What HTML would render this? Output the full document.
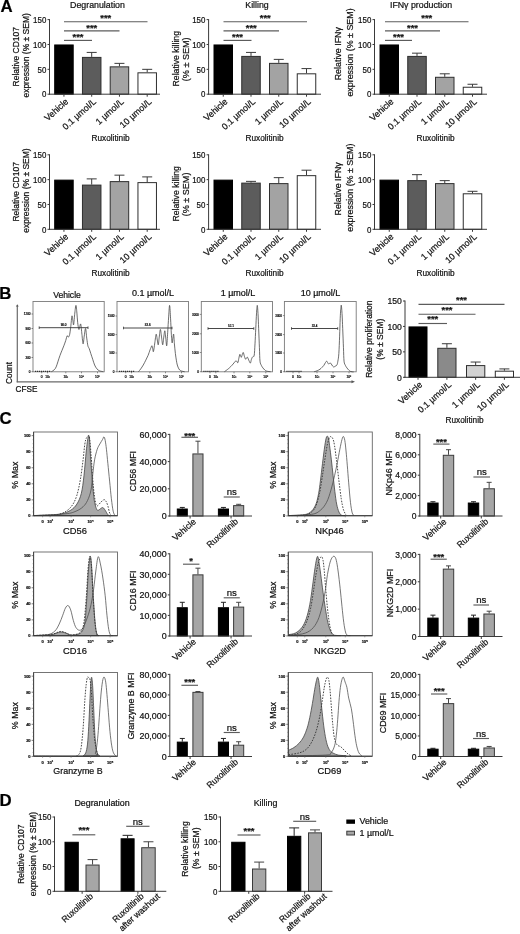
<!DOCTYPE html>
<html lang="en">
<head>
<meta charset="utf-8">
<title>Figure</title>
<style>
html,body{margin:0;padding:0;background:#fff;}
body{width:520px;height:934px;overflow:hidden;}
svg{display:block;font-family:"Liberation Sans",Arial,Helvetica,sans-serif;}
svg text{stroke:#111;stroke-width:0.22px;}
</style>
</head>
<body>
<svg width="520" height="934" viewBox="0 0 520 934">
<rect x="0" y="0" width="520" height="934" fill="#ffffff"/>
<rect x="54.7" y="44.97" width="18.5" height="49.23" fill="#000000" stroke="#000" stroke-width="1"/>
<line x1="91.7" y1="56.9" x2="91.7" y2="52.42" stroke="#3a3a3a" stroke-width="1" />
<line x1="86.7" y1="52.42" x2="96.7" y2="52.42" stroke="#3a3a3a" stroke-width="1" />
<rect x="82.45" y="57.4" width="18.5" height="36.8" fill="#5c5c5c" stroke="#2e2e2e" stroke-width="1"/>
<line x1="119.45" y1="66.35" x2="119.45" y2="63.37" stroke="#3a3a3a" stroke-width="1" />
<line x1="114.45" y1="63.37" x2="124.45" y2="63.37" stroke="#3a3a3a" stroke-width="1" />
<rect x="110.2" y="66.85" width="18.5" height="27.35" fill="#a3a3a3" stroke="#2e2e2e" stroke-width="1"/>
<line x1="147.2" y1="72.32" x2="147.2" y2="69.33" stroke="#3a3a3a" stroke-width="1" />
<line x1="142.2" y1="69.33" x2="152.2" y2="69.33" stroke="#3a3a3a" stroke-width="1" />
<rect x="137.95" y="72.82" width="18.5" height="21.38" fill="#ffffff" stroke="#2e2e2e" stroke-width="1"/>
<line x1="49.5" y1="19.1" x2="49.5" y2="94.7" stroke="#3a3a3a" stroke-width="1" />
<line x1="47.5" y1="19.6" x2="49.5" y2="19.6" stroke="#3a3a3a" stroke-width="1" />
<text transform="translate(46.3 22.8) scale(0.89 1)" font-size="8.9" text-anchor="end" fill="#111" >150</text>
<line x1="47.5" y1="44.47" x2="49.5" y2="44.47" stroke="#3a3a3a" stroke-width="1" />
<text transform="translate(46.3 47.67) scale(0.89 1)" font-size="8.9" text-anchor="end" fill="#111" >100</text>
<line x1="47.5" y1="69.33" x2="49.5" y2="69.33" stroke="#3a3a3a" stroke-width="1" />
<text transform="translate(46.3 72.54) scale(0.89 1)" font-size="8.9" text-anchor="end" fill="#111" >50</text>
<line x1="47.5" y1="94.2" x2="49.5" y2="94.2" stroke="#3a3a3a" stroke-width="1" />
<text transform="translate(46.3 97.4) scale(0.89 1)" font-size="8.9" text-anchor="end" fill="#111" >0</text>
<line x1="49" y1="94.2" x2="160" y2="94.2" stroke="#3a3a3a" stroke-width="1" />
<line x1="63.95" y1="94.2" x2="63.95" y2="96.7" stroke="#3a3a3a" stroke-width="1" />
<line x1="91.7" y1="94.2" x2="91.7" y2="96.7" stroke="#3a3a3a" stroke-width="1" />
<line x1="119.45" y1="94.2" x2="119.45" y2="96.7" stroke="#3a3a3a" stroke-width="1" />
<line x1="147.2" y1="94.2" x2="147.2" y2="96.7" stroke="#3a3a3a" stroke-width="1" />
<text transform="translate(68.95 102.4) rotate(-42)" font-size="8.9" text-anchor="end" fill="#111" >Vehicle</text>
<text transform="translate(96.7 102.4) rotate(-42)" font-size="8.9" text-anchor="end" fill="#111" >0.1 µmol/L</text>
<text transform="translate(124.45 102.4) rotate(-42)" font-size="8.9" text-anchor="end" fill="#111" >1 µmol/L</text>
<text transform="translate(152.2 102.4) rotate(-42)" font-size="8.9" text-anchor="end" fill="#111" >10 µmol/L</text>
<text transform="translate(18.8 56.7) rotate(-90) scale(0.955 1)" font-size="8.9" text-anchor="middle" fill="#111" >Relative CD107</text>
<text transform="translate(29.3 55.4) rotate(-90) scale(0.955 1)" font-size="8.9" text-anchor="middle" fill="#111" >expression (% ± SEM)</text>
<text transform="translate(97.5 7.5) scale(0.99 1)" font-size="8.9" text-anchor="middle" fill="#111" >Degranulation</text>
<line x1="64" y1="21.7" x2="147.5" y2="21.7" stroke="#5c5c5c" stroke-width="1.15" />
<text transform="translate(105.75 21.4)" font-size="9.4" text-anchor="middle" fill="#111" font-weight="bold" >***</text>
<line x1="64" y1="30.8" x2="119.5" y2="30.8" stroke="#5c5c5c" stroke-width="1.15" />
<text transform="translate(91.75 30.5)" font-size="9.4" text-anchor="middle" fill="#111" font-weight="bold" >***</text>
<line x1="64" y1="40.4" x2="92" y2="40.4" stroke="#5c5c5c" stroke-width="1.15" />
<text transform="translate(78 40.1)" font-size="9.4" text-anchor="middle" fill="#111" font-weight="bold" >***</text>
<text transform="translate(110.5 140.5) scale(0.93 1)" font-size="8.9" text-anchor="middle" fill="#111" >Ruxolitinib</text>
<rect x="214" y="44.97" width="18.5" height="49.23" fill="#000000" stroke="#000" stroke-width="1"/>
<line x1="251" y1="55.91" x2="251" y2="52.42" stroke="#3a3a3a" stroke-width="1" />
<line x1="246" y1="52.42" x2="256" y2="52.42" stroke="#3a3a3a" stroke-width="1" />
<rect x="241.75" y="56.41" width="18.5" height="37.79" fill="#5c5c5c" stroke="#2e2e2e" stroke-width="1"/>
<line x1="278.75" y1="62.87" x2="278.75" y2="59.39" stroke="#3a3a3a" stroke-width="1" />
<line x1="273.75" y1="59.39" x2="283.75" y2="59.39" stroke="#3a3a3a" stroke-width="1" />
<rect x="269.5" y="63.37" width="18.5" height="30.83" fill="#a3a3a3" stroke="#2e2e2e" stroke-width="1"/>
<line x1="306.5" y1="73.31" x2="306.5" y2="68.59" stroke="#3a3a3a" stroke-width="1" />
<line x1="301.5" y1="68.59" x2="311.5" y2="68.59" stroke="#3a3a3a" stroke-width="1" />
<rect x="297.25" y="73.81" width="18.5" height="20.39" fill="#ffffff" stroke="#2e2e2e" stroke-width="1"/>
<line x1="208.6" y1="19.1" x2="208.6" y2="94.7" stroke="#3a3a3a" stroke-width="1" />
<line x1="206.6" y1="19.6" x2="208.6" y2="19.6" stroke="#3a3a3a" stroke-width="1" />
<text transform="translate(205.4 22.8) scale(0.89 1)" font-size="8.9" text-anchor="end" fill="#111" >150</text>
<line x1="206.6" y1="44.47" x2="208.6" y2="44.47" stroke="#3a3a3a" stroke-width="1" />
<text transform="translate(205.4 47.67) scale(0.89 1)" font-size="8.9" text-anchor="end" fill="#111" >100</text>
<line x1="206.6" y1="69.33" x2="208.6" y2="69.33" stroke="#3a3a3a" stroke-width="1" />
<text transform="translate(205.4 72.54) scale(0.89 1)" font-size="8.9" text-anchor="end" fill="#111" >50</text>
<line x1="206.6" y1="94.2" x2="208.6" y2="94.2" stroke="#3a3a3a" stroke-width="1" />
<text transform="translate(205.4 97.4) scale(0.89 1)" font-size="8.9" text-anchor="end" fill="#111" >0</text>
<line x1="208.1" y1="94.2" x2="321" y2="94.2" stroke="#3a3a3a" stroke-width="1" />
<line x1="223.25" y1="94.2" x2="223.25" y2="96.7" stroke="#3a3a3a" stroke-width="1" />
<line x1="251" y1="94.2" x2="251" y2="96.7" stroke="#3a3a3a" stroke-width="1" />
<line x1="278.75" y1="94.2" x2="278.75" y2="96.7" stroke="#3a3a3a" stroke-width="1" />
<line x1="306.5" y1="94.2" x2="306.5" y2="96.7" stroke="#3a3a3a" stroke-width="1" />
<text transform="translate(228.25 102.4) rotate(-42)" font-size="8.9" text-anchor="end" fill="#111" >Vehicle</text>
<text transform="translate(256 102.4) rotate(-42)" font-size="8.9" text-anchor="end" fill="#111" >0.1 µmol/L</text>
<text transform="translate(283.75 102.4) rotate(-42)" font-size="8.9" text-anchor="end" fill="#111" >1 µmol/L</text>
<text transform="translate(311.5 102.4) rotate(-42)" font-size="8.9" text-anchor="end" fill="#111" >10 µmol/L</text>
<text transform="translate(178.6 58.7) rotate(-90) scale(0.976 1)" font-size="8.9" text-anchor="middle" fill="#111" >Relative killing</text>
<text transform="translate(189.4 59.3) rotate(-90) scale(1.02 1)" font-size="8.9" text-anchor="middle" fill="#111" >(% ± SEM)</text>
<text transform="translate(257 7.5) scale(0.99 1)" font-size="8.9" text-anchor="middle" fill="#111" >Killing</text>
<line x1="223.5" y1="21.7" x2="307" y2="21.7" stroke="#5c5c5c" stroke-width="1.15" />
<text transform="translate(265.25 21.4)" font-size="9.4" text-anchor="middle" fill="#111" font-weight="bold" >***</text>
<line x1="223.5" y1="30.8" x2="279" y2="30.8" stroke="#5c5c5c" stroke-width="1.15" />
<text transform="translate(251.25 30.5)" font-size="9.4" text-anchor="middle" fill="#111" font-weight="bold" >***</text>
<line x1="223.5" y1="40.4" x2="251.5" y2="40.4" stroke="#5c5c5c" stroke-width="1.15" />
<text transform="translate(237.5 40.1)" font-size="9.4" text-anchor="middle" fill="#111" font-weight="bold" >***</text>
<text transform="translate(264.5 140.5) scale(0.93 1)" font-size="8.9" text-anchor="middle" fill="#111" >Ruxolitinib</text>
<rect x="380" y="44.97" width="18.5" height="49.23" fill="#000000" stroke="#000" stroke-width="1"/>
<line x1="417" y1="55.91" x2="417" y2="53.17" stroke="#3a3a3a" stroke-width="1" />
<line x1="412" y1="53.17" x2="422" y2="53.17" stroke="#3a3a3a" stroke-width="1" />
<rect x="407.75" y="56.41" width="18.5" height="37.79" fill="#5c5c5c" stroke="#2e2e2e" stroke-width="1"/>
<line x1="444.75" y1="76.79" x2="444.75" y2="73.81" stroke="#3a3a3a" stroke-width="1" />
<line x1="439.75" y1="73.81" x2="449.75" y2="73.81" stroke="#3a3a3a" stroke-width="1" />
<rect x="435.5" y="77.29" width="18.5" height="16.91" fill="#a3a3a3" stroke="#2e2e2e" stroke-width="1"/>
<line x1="472.5" y1="86.74" x2="472.5" y2="84.25" stroke="#3a3a3a" stroke-width="1" />
<line x1="467.5" y1="84.25" x2="477.5" y2="84.25" stroke="#3a3a3a" stroke-width="1" />
<rect x="463.25" y="87.24" width="18.5" height="6.96" fill="#ffffff" stroke="#2e2e2e" stroke-width="1"/>
<line x1="374.5" y1="19.1" x2="374.5" y2="94.7" stroke="#3a3a3a" stroke-width="1" />
<line x1="372.5" y1="19.6" x2="374.5" y2="19.6" stroke="#3a3a3a" stroke-width="1" />
<text transform="translate(371.3 22.8) scale(0.89 1)" font-size="8.9" text-anchor="end" fill="#111" >150</text>
<line x1="372.5" y1="44.47" x2="374.5" y2="44.47" stroke="#3a3a3a" stroke-width="1" />
<text transform="translate(371.3 47.67) scale(0.89 1)" font-size="8.9" text-anchor="end" fill="#111" >100</text>
<line x1="372.5" y1="69.33" x2="374.5" y2="69.33" stroke="#3a3a3a" stroke-width="1" />
<text transform="translate(371.3 72.54) scale(0.89 1)" font-size="8.9" text-anchor="end" fill="#111" >50</text>
<line x1="372.5" y1="94.2" x2="374.5" y2="94.2" stroke="#3a3a3a" stroke-width="1" />
<text transform="translate(371.3 97.4) scale(0.89 1)" font-size="8.9" text-anchor="end" fill="#111" >0</text>
<line x1="374" y1="94.2" x2="487" y2="94.2" stroke="#3a3a3a" stroke-width="1" />
<line x1="389.25" y1="94.2" x2="389.25" y2="96.7" stroke="#3a3a3a" stroke-width="1" />
<line x1="417" y1="94.2" x2="417" y2="96.7" stroke="#3a3a3a" stroke-width="1" />
<line x1="444.75" y1="94.2" x2="444.75" y2="96.7" stroke="#3a3a3a" stroke-width="1" />
<line x1="472.5" y1="94.2" x2="472.5" y2="96.7" stroke="#3a3a3a" stroke-width="1" />
<text transform="translate(394.25 102.4) rotate(-42)" font-size="8.9" text-anchor="end" fill="#111" >Vehicle</text>
<text transform="translate(422 102.4) rotate(-42)" font-size="8.9" text-anchor="end" fill="#111" >0.1 µmol/L</text>
<text transform="translate(449.75 102.4) rotate(-42)" font-size="8.9" text-anchor="end" fill="#111" >1 µmol/L</text>
<text transform="translate(477.5 102.4) rotate(-42)" font-size="8.9" text-anchor="end" fill="#111" >10 µmol/L</text>
<text transform="translate(340.5 53.7) rotate(-90)" font-size="8.9" text-anchor="middle" fill="#111" >Relative IFNγ</text>
<text transform="translate(352.5 52.5) rotate(-90)" font-size="8.9" text-anchor="middle" fill="#111" >expression (% ± SEM)</text>
<text transform="translate(421 7.5) scale(0.99 1)" font-size="8.9" text-anchor="middle" fill="#111" >IFNγ production</text>
<line x1="385" y1="21.7" x2="468.5" y2="21.7" stroke="#5c5c5c" stroke-width="1.15" />
<text transform="translate(426.75 21.4)" font-size="9.4" text-anchor="middle" fill="#111" font-weight="bold" >***</text>
<line x1="385" y1="30.8" x2="440" y2="30.8" stroke="#5c5c5c" stroke-width="1.15" />
<text transform="translate(412.5 30.5)" font-size="9.4" text-anchor="middle" fill="#111" font-weight="bold" >***</text>
<line x1="385" y1="40.4" x2="412" y2="40.4" stroke="#5c5c5c" stroke-width="1.15" />
<text transform="translate(398.5 40.1)" font-size="9.4" text-anchor="middle" fill="#111" font-weight="bold" >***</text>
<text transform="translate(435.5 140.5) scale(0.93 1)" font-size="8.9" text-anchor="middle" fill="#111" >Ruxolitinib</text>
<rect x="54.7" y="180.13" width="18.5" height="49.17" fill="#000000" stroke="#000" stroke-width="1"/>
<line x1="91.7" y1="184.6" x2="91.7" y2="178.89" stroke="#3a3a3a" stroke-width="1" />
<line x1="86.7" y1="178.89" x2="96.7" y2="178.89" stroke="#3a3a3a" stroke-width="1" />
<rect x="82.45" y="185.1" width="18.5" height="44.2" fill="#5c5c5c" stroke="#2e2e2e" stroke-width="1"/>
<line x1="119.45" y1="181.12" x2="119.45" y2="175.16" stroke="#3a3a3a" stroke-width="1" />
<line x1="114.45" y1="175.16" x2="124.45" y2="175.16" stroke="#3a3a3a" stroke-width="1" />
<rect x="110.2" y="181.62" width="18.5" height="47.68" fill="#a3a3a3" stroke="#2e2e2e" stroke-width="1"/>
<line x1="147.2" y1="182.12" x2="147.2" y2="176.9" stroke="#3a3a3a" stroke-width="1" />
<line x1="142.2" y1="176.9" x2="152.2" y2="176.9" stroke="#3a3a3a" stroke-width="1" />
<rect x="137.95" y="182.62" width="18.5" height="46.68" fill="#ffffff" stroke="#2e2e2e" stroke-width="1"/>
<line x1="49.5" y1="154.3" x2="49.5" y2="229.8" stroke="#3a3a3a" stroke-width="1" />
<line x1="47.5" y1="154.8" x2="49.5" y2="154.8" stroke="#3a3a3a" stroke-width="1" />
<text transform="translate(46.3 158) scale(0.89 1)" font-size="8.9" text-anchor="end" fill="#111" >150</text>
<line x1="47.5" y1="179.63" x2="49.5" y2="179.63" stroke="#3a3a3a" stroke-width="1" />
<text transform="translate(46.3 182.84) scale(0.89 1)" font-size="8.9" text-anchor="end" fill="#111" >100</text>
<line x1="47.5" y1="204.47" x2="49.5" y2="204.47" stroke="#3a3a3a" stroke-width="1" />
<text transform="translate(46.3 207.67) scale(0.89 1)" font-size="8.9" text-anchor="end" fill="#111" >50</text>
<line x1="47.5" y1="229.3" x2="49.5" y2="229.3" stroke="#3a3a3a" stroke-width="1" />
<text transform="translate(46.3 232.5) scale(0.89 1)" font-size="8.9" text-anchor="end" fill="#111" >0</text>
<line x1="49" y1="229.3" x2="160" y2="229.3" stroke="#3a3a3a" stroke-width="1" />
<line x1="63.95" y1="229.3" x2="63.95" y2="231.8" stroke="#3a3a3a" stroke-width="1" />
<line x1="91.7" y1="229.3" x2="91.7" y2="231.8" stroke="#3a3a3a" stroke-width="1" />
<line x1="119.45" y1="229.3" x2="119.45" y2="231.8" stroke="#3a3a3a" stroke-width="1" />
<line x1="147.2" y1="229.3" x2="147.2" y2="231.8" stroke="#3a3a3a" stroke-width="1" />
<text transform="translate(68.95 237.5) rotate(-42)" font-size="8.9" text-anchor="end" fill="#111" >Vehicle</text>
<text transform="translate(96.7 237.5) rotate(-42)" font-size="8.9" text-anchor="end" fill="#111" >0.1 µmol/L</text>
<text transform="translate(124.45 237.5) rotate(-42)" font-size="8.9" text-anchor="end" fill="#111" >1 µmol/L</text>
<text transform="translate(152.2 237.5) rotate(-42)" font-size="8.9" text-anchor="end" fill="#111" >10 µmol/L</text>
<text transform="translate(18.8 191.85) rotate(-90) scale(0.955 1)" font-size="8.9" text-anchor="middle" fill="#111" >Relative CD107</text>
<text transform="translate(29.3 190.55) rotate(-90) scale(0.955 1)" font-size="8.9" text-anchor="middle" fill="#111" >expression (% ± SEM)</text>
<text transform="translate(110.5 275.5) scale(0.93 1)" font-size="8.9" text-anchor="middle" fill="#111" >Ruxolitinib</text>
<rect x="214" y="180.13" width="18.5" height="49.17" fill="#000000" stroke="#000" stroke-width="1"/>
<line x1="251" y1="182.61" x2="251" y2="181.37" stroke="#3a3a3a" stroke-width="1" />
<line x1="246" y1="181.37" x2="256" y2="181.37" stroke="#3a3a3a" stroke-width="1" />
<rect x="241.75" y="183.11" width="18.5" height="46.19" fill="#5c5c5c" stroke="#2e2e2e" stroke-width="1"/>
<line x1="278.75" y1="183.11" x2="278.75" y2="177.65" stroke="#3a3a3a" stroke-width="1" />
<line x1="273.75" y1="177.65" x2="283.75" y2="177.65" stroke="#3a3a3a" stroke-width="1" />
<rect x="269.5" y="183.61" width="18.5" height="45.69" fill="#a3a3a3" stroke="#2e2e2e" stroke-width="1"/>
<line x1="306.5" y1="175.16" x2="306.5" y2="170.2" stroke="#3a3a3a" stroke-width="1" />
<line x1="301.5" y1="170.2" x2="311.5" y2="170.2" stroke="#3a3a3a" stroke-width="1" />
<rect x="297.25" y="175.66" width="18.5" height="53.64" fill="#ffffff" stroke="#2e2e2e" stroke-width="1"/>
<line x1="208.6" y1="154.3" x2="208.6" y2="229.8" stroke="#3a3a3a" stroke-width="1" />
<line x1="206.6" y1="154.8" x2="208.6" y2="154.8" stroke="#3a3a3a" stroke-width="1" />
<text transform="translate(205.4 158) scale(0.89 1)" font-size="8.9" text-anchor="end" fill="#111" >150</text>
<line x1="206.6" y1="179.63" x2="208.6" y2="179.63" stroke="#3a3a3a" stroke-width="1" />
<text transform="translate(205.4 182.84) scale(0.89 1)" font-size="8.9" text-anchor="end" fill="#111" >100</text>
<line x1="206.6" y1="204.47" x2="208.6" y2="204.47" stroke="#3a3a3a" stroke-width="1" />
<text transform="translate(205.4 207.67) scale(0.89 1)" font-size="8.9" text-anchor="end" fill="#111" >50</text>
<line x1="206.6" y1="229.3" x2="208.6" y2="229.3" stroke="#3a3a3a" stroke-width="1" />
<text transform="translate(205.4 232.5) scale(0.89 1)" font-size="8.9" text-anchor="end" fill="#111" >0</text>
<line x1="208.1" y1="229.3" x2="321" y2="229.3" stroke="#3a3a3a" stroke-width="1" />
<line x1="223.25" y1="229.3" x2="223.25" y2="231.8" stroke="#3a3a3a" stroke-width="1" />
<line x1="251" y1="229.3" x2="251" y2="231.8" stroke="#3a3a3a" stroke-width="1" />
<line x1="278.75" y1="229.3" x2="278.75" y2="231.8" stroke="#3a3a3a" stroke-width="1" />
<line x1="306.5" y1="229.3" x2="306.5" y2="231.8" stroke="#3a3a3a" stroke-width="1" />
<text transform="translate(228.25 237.5) rotate(-42)" font-size="8.9" text-anchor="end" fill="#111" >Vehicle</text>
<text transform="translate(256 237.5) rotate(-42)" font-size="8.9" text-anchor="end" fill="#111" >0.1 µmol/L</text>
<text transform="translate(283.75 237.5) rotate(-42)" font-size="8.9" text-anchor="end" fill="#111" >1 µmol/L</text>
<text transform="translate(311.5 237.5) rotate(-42)" font-size="8.9" text-anchor="end" fill="#111" >10 µmol/L</text>
<text transform="translate(178.6 193.85) rotate(-90) scale(0.976 1)" font-size="8.9" text-anchor="middle" fill="#111" >Relative killing</text>
<text transform="translate(189.4 194.45) rotate(-90) scale(1.02 1)" font-size="8.9" text-anchor="middle" fill="#111" >(% ± SEM)</text>
<text transform="translate(264.5 275.5) scale(0.93 1)" font-size="8.9" text-anchor="middle" fill="#111" >Ruxolitinib</text>
<rect x="380" y="180.13" width="18.5" height="49.17" fill="#000000" stroke="#000" stroke-width="1"/>
<line x1="417" y1="180.13" x2="417" y2="174.67" stroke="#3a3a3a" stroke-width="1" />
<line x1="412" y1="174.67" x2="422" y2="174.67" stroke="#3a3a3a" stroke-width="1" />
<rect x="407.75" y="180.63" width="18.5" height="48.67" fill="#5c5c5c" stroke="#2e2e2e" stroke-width="1"/>
<line x1="444.75" y1="183.11" x2="444.75" y2="180.63" stroke="#3a3a3a" stroke-width="1" />
<line x1="439.75" y1="180.63" x2="449.75" y2="180.63" stroke="#3a3a3a" stroke-width="1" />
<rect x="435.5" y="183.61" width="18.5" height="45.69" fill="#a3a3a3" stroke="#2e2e2e" stroke-width="1"/>
<line x1="472.5" y1="193.29" x2="472.5" y2="191.31" stroke="#3a3a3a" stroke-width="1" />
<line x1="467.5" y1="191.31" x2="477.5" y2="191.31" stroke="#3a3a3a" stroke-width="1" />
<rect x="463.25" y="193.79" width="18.5" height="35.51" fill="#ffffff" stroke="#2e2e2e" stroke-width="1"/>
<line x1="374.5" y1="154.3" x2="374.5" y2="229.8" stroke="#3a3a3a" stroke-width="1" />
<line x1="372.5" y1="154.8" x2="374.5" y2="154.8" stroke="#3a3a3a" stroke-width="1" />
<text transform="translate(371.3 158) scale(0.89 1)" font-size="8.9" text-anchor="end" fill="#111" >150</text>
<line x1="372.5" y1="179.63" x2="374.5" y2="179.63" stroke="#3a3a3a" stroke-width="1" />
<text transform="translate(371.3 182.84) scale(0.89 1)" font-size="8.9" text-anchor="end" fill="#111" >100</text>
<line x1="372.5" y1="204.47" x2="374.5" y2="204.47" stroke="#3a3a3a" stroke-width="1" />
<text transform="translate(371.3 207.67) scale(0.89 1)" font-size="8.9" text-anchor="end" fill="#111" >50</text>
<line x1="372.5" y1="229.3" x2="374.5" y2="229.3" stroke="#3a3a3a" stroke-width="1" />
<text transform="translate(371.3 232.5) scale(0.89 1)" font-size="8.9" text-anchor="end" fill="#111" >0</text>
<line x1="374" y1="229.3" x2="487" y2="229.3" stroke="#3a3a3a" stroke-width="1" />
<line x1="389.25" y1="229.3" x2="389.25" y2="231.8" stroke="#3a3a3a" stroke-width="1" />
<line x1="417" y1="229.3" x2="417" y2="231.8" stroke="#3a3a3a" stroke-width="1" />
<line x1="444.75" y1="229.3" x2="444.75" y2="231.8" stroke="#3a3a3a" stroke-width="1" />
<line x1="472.5" y1="229.3" x2="472.5" y2="231.8" stroke="#3a3a3a" stroke-width="1" />
<text transform="translate(394.25 237.5) rotate(-42)" font-size="8.9" text-anchor="end" fill="#111" >Vehicle</text>
<text transform="translate(422 237.5) rotate(-42)" font-size="8.9" text-anchor="end" fill="#111" >0.1 µmol/L</text>
<text transform="translate(449.75 237.5) rotate(-42)" font-size="8.9" text-anchor="end" fill="#111" >1 µmol/L</text>
<text transform="translate(477.5 237.5) rotate(-42)" font-size="8.9" text-anchor="end" fill="#111" >10 µmol/L</text>
<text transform="translate(340.5 188.85) rotate(-90)" font-size="8.9" text-anchor="middle" fill="#111" >Relative IFNγ</text>
<text transform="translate(352.5 187.65) rotate(-90)" font-size="8.9" text-anchor="middle" fill="#111" >expression (% ± SEM)</text>
<text transform="translate(435.5 275.5) scale(0.93 1)" font-size="8.9" text-anchor="middle" fill="#111" >Ruxolitinib</text>
<text transform="translate(0.5 12.3)" font-size="16.8" text-anchor="start" fill="#000" font-weight="bold" >A</text>
<text transform="translate(-0.7 298.8)" font-size="16.8" text-anchor="start" fill="#000" font-weight="bold" >B</text>
<text transform="translate(-0.4 424)" font-size="16.8" text-anchor="start" fill="#000" font-weight="bold" >C</text>
<text transform="translate(-0.4 805.6)" font-size="16.8" text-anchor="start" fill="#000" font-weight="bold" >D</text>
<rect x="409" y="326.93" width="18" height="50.37" fill="#000000" stroke="#000" stroke-width="1"/>
<line x1="446.9" y1="347.8" x2="446.9" y2="343.73" stroke="#3a3a3a" stroke-width="1" />
<line x1="441.9" y1="343.73" x2="451.9" y2="343.73" stroke="#3a3a3a" stroke-width="1" />
<rect x="437.8" y="348.3" width="18.2" height="29" fill="#8a8a8a" stroke="#2e2e2e" stroke-width="1"/>
<line x1="475.65" y1="365.09" x2="475.65" y2="362.04" stroke="#3a3a3a" stroke-width="1" />
<line x1="470.65" y1="362.04" x2="480.65" y2="362.04" stroke="#3a3a3a" stroke-width="1" />
<rect x="466.5" y="365.59" width="18.3" height="11.71" fill="#d2d2d2" stroke="#2e2e2e" stroke-width="1"/>
<line x1="504.4" y1="370.69" x2="504.4" y2="368.91" stroke="#3a3a3a" stroke-width="1" />
<line x1="499.4" y1="368.91" x2="509.4" y2="368.91" stroke="#3a3a3a" stroke-width="1" />
<rect x="495.3" y="371.19" width="18.2" height="6.11" fill="#ffffff" stroke="#2e2e2e" stroke-width="1"/>
<line x1="405" y1="300.5" x2="405" y2="377.8" stroke="#3a3a3a" stroke-width="1" />
<line x1="403" y1="301" x2="405" y2="301" stroke="#3a3a3a" stroke-width="1" />
<text transform="translate(401.8 304.2) scale(0.97 1)" font-size="8.9" text-anchor="end" fill="#111" >150</text>
<line x1="403" y1="326.43" x2="405" y2="326.43" stroke="#3a3a3a" stroke-width="1" />
<text transform="translate(401.8 329.64) scale(0.97 1)" font-size="8.9" text-anchor="end" fill="#111" >100</text>
<line x1="403" y1="351.87" x2="405" y2="351.87" stroke="#3a3a3a" stroke-width="1" />
<text transform="translate(401.8 355.07) scale(0.97 1)" font-size="8.9" text-anchor="end" fill="#111" >50</text>
<line x1="403" y1="377.3" x2="405" y2="377.3" stroke="#3a3a3a" stroke-width="1" />
<text transform="translate(401.8 380.5) scale(0.97 1)" font-size="8.9" text-anchor="end" fill="#111" >0</text>
<line x1="404.5" y1="377.3" x2="520" y2="377.3" stroke="#3a3a3a" stroke-width="1" />
<line x1="418" y1="377.3" x2="418" y2="379.8" stroke="#3a3a3a" stroke-width="1" />
<line x1="446.9" y1="377.3" x2="446.9" y2="379.8" stroke="#3a3a3a" stroke-width="1" />
<line x1="475.65" y1="377.3" x2="475.65" y2="379.8" stroke="#3a3a3a" stroke-width="1" />
<line x1="504.4" y1="377.3" x2="504.4" y2="379.8" stroke="#3a3a3a" stroke-width="1" />
<text transform="translate(423 385.5) rotate(-42)" font-size="8.9" text-anchor="end" fill="#111" >Vehicle</text>
<text transform="translate(451.9 385.5) rotate(-42)" font-size="8.9" text-anchor="end" fill="#111" >0.1 µmol/L</text>
<text transform="translate(480.65 385.5) rotate(-42)" font-size="8.9" text-anchor="end" fill="#111" >1 µmol/L</text>
<text transform="translate(509.4 385.5) rotate(-42)" font-size="8.9" text-anchor="end" fill="#111" >10 µmol/L</text>
<text transform="translate(372 339.15) rotate(-90) scale(0.955 1)" font-size="8.9" text-anchor="middle" fill="#111" >Relative proliferation</text>
<text transform="translate(383 339.15) rotate(-90) scale(0.955 1)" font-size="8.9" text-anchor="middle" fill="#111" >(% ± SEM)</text>
<line x1="418.5" y1="304.4" x2="504.5" y2="304.4" stroke="#5c5c5c" stroke-width="1.15" />
<text transform="translate(461.5 303.2)" font-size="9.4" text-anchor="middle" fill="#111" font-weight="bold" >***</text>
<line x1="418.5" y1="314.2" x2="475.5" y2="314.2" stroke="#5c5c5c" stroke-width="1.15" />
<text transform="translate(447 313)" font-size="9.4" text-anchor="middle" fill="#111" font-weight="bold" >***</text>
<line x1="418.5" y1="323.5" x2="447" y2="323.5" stroke="#5c5c5c" stroke-width="1.15" />
<text transform="translate(432.75 322.3)" font-size="9.4" text-anchor="middle" fill="#111" font-weight="bold" >***</text>
<text transform="translate(464.5 422.5) scale(0.93 1)" font-size="8.9" text-anchor="middle" fill="#111" >Ruxolitinib</text>
<line x1="17.3" y1="306" x2="17.3" y2="382.3" stroke="#6a6a6a" stroke-width="1.2" />
<line x1="16.7" y1="381.8" x2="352" y2="381.8" stroke="#6a6a6a" stroke-width="1.2" />
<path d="M15.9,306.6 L17.3,304.3 L18.7,306.6 Z" fill="#555"/>
<path d="M351.5,380.3 L355,381.8 L351.5,383.3 Z" fill="#555"/>
<text transform="translate(11.9 373) rotate(-90)" font-size="8.2" text-anchor="middle" fill="#111" >Count</text>
<text transform="translate(15.6 391.6)" font-size="8.2" text-anchor="start" fill="#111" >CFSE</text>
<rect x="33" y="301.5" width="71.2" height="70.3" fill="#fff" stroke="#7a7a7a" stroke-width="0.9"/>
<text transform="translate(67 298)" font-size="8.6" text-anchor="middle" fill="#111" >Vehicle</text>
<text transform="translate(30.5 315.1)" font-size="3" text-anchor="end" fill="#333" >1200</text>
<line x1="31.5" y1="314" x2="33" y2="314" stroke="#444" stroke-width="0.6" />
<text transform="translate(30.5 329.6)" font-size="3" text-anchor="end" fill="#333" >900</text>
<line x1="31.5" y1="328.5" x2="33" y2="328.5" stroke="#444" stroke-width="0.6" />
<text transform="translate(30.5 344.1)" font-size="3" text-anchor="end" fill="#333" >600</text>
<line x1="31.5" y1="343" x2="33" y2="343" stroke="#444" stroke-width="0.6" />
<text transform="translate(30.5 358.6)" font-size="3" text-anchor="end" fill="#333" >300</text>
<line x1="31.5" y1="357.5" x2="33" y2="357.5" stroke="#444" stroke-width="0.6" />
<text transform="translate(30.5 372.8)" font-size="3" text-anchor="end" fill="#333" >0</text>
<line x1="31.5" y1="371.7" x2="33" y2="371.7" stroke="#444" stroke-width="0.6" />
<text transform="translate(41.7 378.4)" font-size="3.2" text-anchor="middle" fill="#333" >0</text>
<line x1="41.7" y1="371.8" x2="41.7" y2="373.3" stroke="#444" stroke-width="0.6" />
<text transform="translate(47.5 378.4)" font-size="3.2" text-anchor="middle" fill="#333" >10²</text>
<line x1="47.5" y1="371.8" x2="47.5" y2="373.3" stroke="#444" stroke-width="0.6" />
<text transform="translate(65.8 378.4)" font-size="3.2" text-anchor="middle" fill="#333" >10³</text>
<line x1="65.8" y1="371.8" x2="65.8" y2="373.3" stroke="#444" stroke-width="0.6" />
<text transform="translate(81.5 378.4)" font-size="3.2" text-anchor="middle" fill="#333" >10⁴</text>
<line x1="81.5" y1="371.8" x2="81.5" y2="373.3" stroke="#444" stroke-width="0.6" />
<text transform="translate(97.5 378.4)" font-size="3.2" text-anchor="middle" fill="#333" >10⁵</text>
<line x1="97.5" y1="371.8" x2="97.5" y2="373.3" stroke="#444" stroke-width="0.6" />
<line x1="35" y1="371.4" x2="51" y2="371.4" stroke="#333" stroke-width="1.2" stroke-dasharray="1.2 0.8"/>
<path d="M51.35,371.73 C51.83,371.41 53.43,370.61 54.23,369.81 C55.03,369.01 55.51,368.37 56.15,366.92 C56.79,365.48 57.44,363.08 58.08,361.15 C58.72,359.23 59.36,357.15 60,355.38 C60.64,353.62 61.28,352.18 61.92,350.58 C62.56,348.97 63.21,347.47 63.85,345.77 C64.49,344.07 65.22,342.05 65.77,340.38 C66.31,338.72 66.7,336.31 67.12,335.77 C67.53,335.22 67.85,337.31 68.27,337.12 C68.69,336.92 69.2,336.38 69.62,334.62 C70.03,332.85 70.38,329.65 70.77,326.54 C71.15,323.43 71.57,316.92 71.92,315.96 C72.28,315 72.6,319.33 72.88,320.77 C73.17,322.21 73.33,325.9 73.65,324.62 C73.97,323.33 74.42,316.28 74.81,313.08 C75.19,309.87 75.61,305.38 75.96,305.38 C76.31,305.38 76.63,310.19 76.92,313.08 C77.21,315.96 77.37,319.97 77.69,322.69 C78.01,325.42 78.49,328.78 78.85,329.42 C79.2,330.06 79.49,327.4 79.81,326.54 C80.13,325.67 80.42,322.95 80.77,324.23 C81.12,325.51 81.54,330.96 81.92,334.23 C82.31,337.5 82.69,343.53 83.08,343.85 C83.46,344.17 83.81,338.72 84.23,336.15 C84.65,333.59 85.16,328.14 85.58,328.46 C85.99,328.78 86.35,335.19 86.73,338.08 C87.12,340.96 87.47,344.01 87.88,345.77 C88.3,347.53 88.75,347.37 89.23,348.65 C89.71,349.94 90.19,351.7 90.77,353.46 C91.35,355.22 92.05,357.31 92.69,359.23 C93.33,361.15 93.91,363.4 94.62,365 C95.32,366.6 96.12,367.88 96.92,368.85 C97.72,369.81 98.37,370.29 99.42,370.77 C100.48,371.25 102.63,371.57 103.27,371.73" fill="none" stroke="#3c3c3c" stroke-width="0.75" stroke-linejoin="round"/>
<line x1="39.2" y1="327.7" x2="88" y2="327.7" stroke="#333" stroke-width="0.9" />
<line x1="39.2" y1="326.4" x2="39.2" y2="329" stroke="#333" stroke-width="0.8" />
<line x1="88" y1="326.4" x2="88" y2="329" stroke="#333" stroke-width="0.8" />
<text transform="translate(63.6 326.1)" font-size="3" text-anchor="middle" fill="#333" >90.0</text>
<rect x="117" y="301.5" width="71.5" height="70.3" fill="#fff" stroke="#7a7a7a" stroke-width="0.9"/>
<text transform="translate(153 295.8)" font-size="9.0" text-anchor="middle" fill="#111" >0.1 µmol/L</text>
<text transform="translate(114.5 317.1)" font-size="3" text-anchor="end" fill="#333" >1500</text>
<line x1="115.5" y1="316" x2="117" y2="316" stroke="#444" stroke-width="0.6" />
<text transform="translate(114.5 335.7)" font-size="3" text-anchor="end" fill="#333" >1000</text>
<line x1="115.5" y1="334.6" x2="117" y2="334.6" stroke="#444" stroke-width="0.6" />
<text transform="translate(114.5 354.1)" font-size="3" text-anchor="end" fill="#333" >500</text>
<line x1="115.5" y1="353" x2="117" y2="353" stroke="#444" stroke-width="0.6" />
<text transform="translate(114.5 372.8)" font-size="3" text-anchor="end" fill="#333" >0</text>
<line x1="115.5" y1="371.7" x2="117" y2="371.7" stroke="#444" stroke-width="0.6" />
<text transform="translate(125.7 378.4)" font-size="3.2" text-anchor="middle" fill="#333" >0</text>
<line x1="125.7" y1="371.8" x2="125.7" y2="373.3" stroke="#444" stroke-width="0.6" />
<text transform="translate(131.5 378.4)" font-size="3.2" text-anchor="middle" fill="#333" >10²</text>
<line x1="131.5" y1="371.8" x2="131.5" y2="373.3" stroke="#444" stroke-width="0.6" />
<text transform="translate(149.8 378.4)" font-size="3.2" text-anchor="middle" fill="#333" >10³</text>
<line x1="149.8" y1="371.8" x2="149.8" y2="373.3" stroke="#444" stroke-width="0.6" />
<text transform="translate(165.5 378.4)" font-size="3.2" text-anchor="middle" fill="#333" >10⁴</text>
<line x1="165.5" y1="371.8" x2="165.5" y2="373.3" stroke="#444" stroke-width="0.6" />
<text transform="translate(181.5 378.4)" font-size="3.2" text-anchor="middle" fill="#333" >10⁵</text>
<line x1="181.5" y1="371.8" x2="181.5" y2="373.3" stroke="#444" stroke-width="0.6" />
<line x1="119" y1="371.4" x2="135" y2="371.4" stroke="#333" stroke-width="1.2" stroke-dasharray="1.2 0.8"/>
<path d="M138.46,371.73 C138.85,371.25 139.97,369.97 140.77,368.85 C141.57,367.72 142.44,366.44 143.27,365 C144.1,363.56 144.97,361.79 145.77,360.19 C146.57,358.59 147.37,357.08 148.08,355.38 C148.78,353.69 149.52,351.28 150,350 C150.48,348.72 150.64,348.4 150.96,347.69 C151.28,346.99 151.63,345.61 151.92,345.77 C152.21,345.93 152.44,347.69 152.69,348.65 C152.95,349.62 153.11,352.5 153.46,351.54 C153.81,350.58 154.36,345.77 154.81,342.88 C155.26,340 155.74,334.71 156.15,334.23 C156.57,333.75 156.96,338.24 157.31,340 C157.66,341.76 157.95,345.29 158.27,344.81 C158.59,344.33 158.88,339.68 159.23,337.12 C159.58,334.55 160,329.42 160.38,329.42 C160.77,329.42 161.15,334.55 161.54,337.12 C161.92,339.68 162.34,344.65 162.69,344.81 C163.04,344.97 163.3,340.42 163.65,338.08 C164.01,335.74 164.46,330.77 164.81,330.77 C165.16,330.77 165.45,335.58 165.77,338.08 C166.09,340.58 166.41,346.73 166.73,345.77 C167.05,344.81 167.37,337.12 167.69,332.31 C168.01,327.5 168.33,321.41 168.65,316.92 C168.97,312.44 169.29,305.06 169.62,305.38 C169.94,305.71 170.29,314.04 170.58,318.85 C170.87,323.65 171.09,330.22 171.35,334.23 C171.6,338.24 171.86,342.24 172.12,342.88 C172.37,343.53 172.63,339.52 172.88,338.08 C173.14,336.63 173.4,333.27 173.65,334.23 C173.91,335.19 174.13,340.64 174.42,343.85 C174.71,347.05 175.06,350.74 175.38,353.46 C175.71,356.19 176.03,358.27 176.35,360.19 C176.67,362.12 176.89,363.56 177.31,365 C177.72,366.44 178.27,367.88 178.85,368.85 C179.42,369.81 179.81,370.29 180.77,370.77 C181.73,371.25 183.97,371.57 184.62,371.73" fill="none" stroke="#3c3c3c" stroke-width="0.75" stroke-linejoin="round"/>
<line x1="123.5" y1="328" x2="172" y2="328" stroke="#333" stroke-width="0.9" />
<line x1="123.5" y1="326.7" x2="123.5" y2="329.3" stroke="#333" stroke-width="0.8" />
<line x1="172" y1="326.7" x2="172" y2="329.3" stroke="#333" stroke-width="0.8" />
<text transform="translate(147.75 326.4)" font-size="3" text-anchor="middle" fill="#333" >83.6</text>
<rect x="201.3" y="301.5" width="71.2" height="70.3" fill="#fff" stroke="#7a7a7a" stroke-width="0.9"/>
<text transform="translate(238 295.8)" font-size="9.0" text-anchor="middle" fill="#111" >1 µmol/L</text>
<text transform="translate(198.8 315.5)" font-size="3" text-anchor="end" fill="#333" >3000</text>
<line x1="199.8" y1="314.4" x2="201.3" y2="314.4" stroke="#444" stroke-width="0.6" />
<text transform="translate(198.8 334.9)" font-size="3" text-anchor="end" fill="#333" >2000</text>
<line x1="199.8" y1="333.8" x2="201.3" y2="333.8" stroke="#444" stroke-width="0.6" />
<text transform="translate(198.8 353.6)" font-size="3" text-anchor="end" fill="#333" >1000</text>
<line x1="199.8" y1="352.5" x2="201.3" y2="352.5" stroke="#444" stroke-width="0.6" />
<text transform="translate(198.8 372.8)" font-size="3" text-anchor="end" fill="#333" >0</text>
<line x1="199.8" y1="371.7" x2="201.3" y2="371.7" stroke="#444" stroke-width="0.6" />
<text transform="translate(210 378.4)" font-size="3.2" text-anchor="middle" fill="#333" >0</text>
<line x1="210" y1="371.8" x2="210" y2="373.3" stroke="#444" stroke-width="0.6" />
<text transform="translate(215.8 378.4)" font-size="3.2" text-anchor="middle" fill="#333" >10²</text>
<line x1="215.8" y1="371.8" x2="215.8" y2="373.3" stroke="#444" stroke-width="0.6" />
<text transform="translate(234 378.4)" font-size="3.2" text-anchor="middle" fill="#333" >10³</text>
<line x1="234" y1="371.8" x2="234" y2="373.3" stroke="#444" stroke-width="0.6" />
<text transform="translate(249.8 378.4)" font-size="3.2" text-anchor="middle" fill="#333" >10⁴</text>
<line x1="249.8" y1="371.8" x2="249.8" y2="373.3" stroke="#444" stroke-width="0.6" />
<text transform="translate(265.8 378.4)" font-size="3.2" text-anchor="middle" fill="#333" >10⁵</text>
<line x1="265.8" y1="371.8" x2="265.8" y2="373.3" stroke="#444" stroke-width="0.6" />
<line x1="203.3" y1="371.4" x2="219.3" y2="371.4" stroke="#333" stroke-width="1.2" stroke-dasharray="1.2 0.8"/>
<path d="M224.42,371.73 C225.06,371.25 227.21,369.71 228.27,368.85 C229.33,367.98 229.97,367.34 230.77,366.54 C231.57,365.74 232.44,364.78 233.08,364.04 C233.72,363.3 234.13,362.66 234.62,362.12 C235.1,361.57 235.58,360.87 235.96,360.77 C236.35,360.67 236.6,361.22 236.92,361.54 C237.24,361.86 237.56,363.24 237.88,362.69 C238.21,362.15 238.53,359.65 238.85,358.27 C239.17,356.89 239.52,354.84 239.81,354.42 C240.1,354.01 240.32,355.29 240.58,355.77 C240.83,356.25 241.06,357.53 241.35,357.31 C241.63,357.08 241.99,355.22 242.31,354.42 C242.63,353.62 242.92,352.18 243.27,352.5 C243.62,352.82 244.04,355.22 244.42,356.35 C244.81,357.47 245.22,358.97 245.58,359.23 C245.93,359.49 246.22,358.21 246.54,357.88 C246.86,357.56 247.08,356.83 247.5,357.31 C247.92,357.79 248.56,359.81 249.04,360.77 C249.52,361.73 250,363.27 250.38,363.08 C250.77,362.88 251.03,360.58 251.35,359.62 C251.67,358.65 251.99,357.85 252.31,357.31 C252.63,356.76 252.95,356.67 253.27,356.35 C253.59,356.03 253.94,357.47 254.23,355.38 C254.52,353.3 254.74,348.33 255,343.85 C255.26,339.36 255.51,333.59 255.77,328.46 C256.03,323.33 256.28,316.92 256.54,313.08 C256.79,309.23 257.05,305.06 257.31,305.38 C257.56,305.71 257.85,311.15 258.08,315 C258.3,318.85 258.43,323.01 258.65,328.46 C258.88,333.91 259.2,342.24 259.42,347.69 C259.65,353.14 259.68,358.21 260,361.15 C260.32,364.1 260.87,364.26 261.35,365.38 C261.83,366.51 262.31,367.12 262.88,367.88 C263.46,368.65 264.17,369.46 264.81,370 C265.45,370.54 265.77,370.87 266.73,371.15 C267.69,371.44 269.94,371.63 270.58,371.73" fill="none" stroke="#3c3c3c" stroke-width="0.75" stroke-linejoin="round"/>
<line x1="208" y1="328.5" x2="253.8" y2="328.5" stroke="#333" stroke-width="0.9" />
<line x1="208" y1="327.2" x2="208" y2="329.8" stroke="#333" stroke-width="0.8" />
<line x1="253.8" y1="327.2" x2="253.8" y2="329.8" stroke="#333" stroke-width="0.8" />
<text transform="translate(230.9 326.9)" font-size="3" text-anchor="middle" fill="#333" >52.1</text>
<rect x="284.4" y="301.5" width="71.8" height="70.3" fill="#fff" stroke="#7a7a7a" stroke-width="0.9"/>
<text transform="translate(320.5 295.8)" font-size="9.0" text-anchor="middle" fill="#111" >10 µmol/L</text>
<text transform="translate(281.9 316.7)" font-size="3" text-anchor="end" fill="#333" >3000</text>
<line x1="282.9" y1="315.6" x2="284.4" y2="315.6" stroke="#444" stroke-width="0.6" />
<text transform="translate(281.9 335.7)" font-size="3" text-anchor="end" fill="#333" >2000</text>
<line x1="282.9" y1="334.6" x2="284.4" y2="334.6" stroke="#444" stroke-width="0.6" />
<text transform="translate(281.9 354.1)" font-size="3" text-anchor="end" fill="#333" >1000</text>
<line x1="282.9" y1="353" x2="284.4" y2="353" stroke="#444" stroke-width="0.6" />
<text transform="translate(281.9 372.8)" font-size="3" text-anchor="end" fill="#333" >0</text>
<line x1="282.9" y1="371.7" x2="284.4" y2="371.7" stroke="#444" stroke-width="0.6" />
<text transform="translate(293 378.4)" font-size="3.2" text-anchor="middle" fill="#333" >0</text>
<line x1="293" y1="371.8" x2="293" y2="373.3" stroke="#444" stroke-width="0.6" />
<text transform="translate(299 378.4)" font-size="3.2" text-anchor="middle" fill="#333" >10²</text>
<line x1="299" y1="371.8" x2="299" y2="373.3" stroke="#444" stroke-width="0.6" />
<text transform="translate(317 378.4)" font-size="3.2" text-anchor="middle" fill="#333" >10³</text>
<line x1="317" y1="371.8" x2="317" y2="373.3" stroke="#444" stroke-width="0.6" />
<text transform="translate(333 378.4)" font-size="3.2" text-anchor="middle" fill="#333" >10⁴</text>
<line x1="333" y1="371.8" x2="333" y2="373.3" stroke="#444" stroke-width="0.6" />
<text transform="translate(349 378.4)" font-size="3.2" text-anchor="middle" fill="#333" >10⁵</text>
<line x1="349" y1="371.8" x2="349" y2="373.3" stroke="#444" stroke-width="0.6" />
<line x1="286.4" y1="371.4" x2="302.4" y2="371.4" stroke="#333" stroke-width="1.2" stroke-dasharray="1.2 0.8"/>
<path d="M314.23,371.73 C314.71,371.57 316.15,371.19 317.12,370.77 C318.08,370.35 319.2,369.78 320,369.23 C320.8,368.69 321.28,368.14 321.92,367.5 C322.56,366.86 323.27,366.19 323.85,365.38 C324.42,364.58 324.9,363.4 325.38,362.69 C325.87,361.99 326.35,361.15 326.73,361.15 C327.12,361.15 327.37,362.21 327.69,362.69 C328.01,363.17 328.33,363.94 328.65,364.04 C328.97,364.13 329.29,363.43 329.62,363.27 C329.94,363.11 330.19,362.79 330.58,363.08 C330.96,363.37 331.44,364.36 331.92,365 C332.4,365.64 332.88,366.73 333.46,366.92 C334.04,367.12 334.81,366.47 335.38,366.15 C335.96,365.83 336.51,365.83 336.92,365 C337.34,364.17 337.56,363.08 337.88,361.15 C338.21,359.23 338.56,357.63 338.85,353.46 C339.13,349.29 339.39,341.92 339.62,336.15 C339.84,330.38 340,323.33 340.19,318.85 C340.38,314.36 340.58,311.47 340.77,309.23 C340.96,306.99 341.12,304.42 341.35,305.38 C341.57,306.35 341.89,311.15 342.12,315 C342.34,318.85 342.47,323.01 342.69,328.46 C342.92,333.91 343.24,342.24 343.46,347.69 C343.69,353.14 343.72,358.21 344.04,361.15 C344.36,364.1 344.9,364.26 345.38,365.38 C345.87,366.51 346.35,367.08 346.92,367.88 C347.5,368.69 348.21,369.58 348.85,370.19 C349.49,370.8 349.97,371.25 350.77,371.54 C351.57,371.83 353.17,371.86 353.65,371.92" fill="none" stroke="#3c3c3c" stroke-width="0.75" stroke-linejoin="round"/>
<line x1="291.5" y1="328.5" x2="337.7" y2="328.5" stroke="#333" stroke-width="0.9" />
<line x1="291.5" y1="327.2" x2="291.5" y2="329.8" stroke="#333" stroke-width="0.8" />
<line x1="337.7" y1="327.2" x2="337.7" y2="329.8" stroke="#333" stroke-width="0.8" />
<text transform="translate(314.6 326.9)" font-size="3" text-anchor="middle" fill="#333" >33.4</text>
<rect x="33.6" y="432" width="83.9" height="83.7" fill="#fff" stroke="#666" stroke-width="0.9"/>
<path d="M33.54,515.58 C36.49,515.49 46.51,515.34 51.23,515.05 C55.95,514.75 58.6,514.61 61.85,513.81 C65.09,513.01 68.19,511.89 70.69,510.27 C73.2,508.65 75.12,506.88 76.89,504.08 C78.66,501.28 80.13,498.18 81.31,493.46 C82.49,488.75 83.14,482.85 83.96,475.77 C84.79,468.69 85.59,457.34 86.26,451 C86.94,444.66 87.53,440.09 88.03,437.73 C88.53,435.37 88.92,434.63 89.27,436.85 C89.62,439.06 89.71,444.51 90.16,451 C90.6,457.49 91.28,467.81 91.92,475.77 C92.57,483.73 93.31,493.32 94.05,498.77 C94.79,504.23 95.67,506.59 96.35,508.5 C97.03,510.42 97.38,510.27 98.12,510.27 C98.85,510.27 99.98,508.94 100.77,508.5 C101.57,508.06 102.16,507.32 102.89,507.62 C103.63,507.91 104.37,509.09 105.19,510.27 C106.02,511.45 107.11,513.81 107.85,514.69 C108.59,515.58 109.32,515.43 109.62,515.58 Z" fill="#a8a8a8" stroke="#444" stroke-width="0.8" stroke-linejoin="round"/>
<path d="M33.54,515.58 C35.9,515.52 43.56,515.43 47.69,515.23 C51.82,515.02 55.21,515.02 58.31,514.34 C61.4,513.66 63.91,512.72 66.27,511.16 C68.63,509.59 70.69,507.62 72.46,504.96 C74.23,502.31 75.56,499.51 76.89,495.23 C78.21,490.96 79.39,485.21 80.42,479.31 C81.46,473.41 82.34,465.74 83.08,459.85 C83.82,453.95 84.26,447.61 84.85,443.92 C85.44,440.24 85.88,438.91 86.62,437.73 C87.35,436.55 88.53,434.05 89.27,436.85 C90.01,439.65 90.36,446.28 91.04,454.54 C91.72,462.8 92.6,478.42 93.34,486.39 C94.08,494.35 94.81,499.07 95.46,502.31 C96.11,505.55 96.35,505.85 97.23,505.85 C98.12,505.85 99.65,503.34 100.77,502.31 C101.89,501.28 103.07,499.8 103.96,499.66 C104.84,499.51 105.43,500.39 106.08,501.43 C106.73,502.46 107.26,503.93 107.85,505.85 C108.44,507.77 109.03,511.3 109.62,512.93 C110.21,514.55 111.09,515.14 111.39,515.58" fill="none" stroke="#333" stroke-width="0.9" stroke-linejoin="round" stroke-dasharray="1.6 1.3"/>
<path d="M33.54,515.58 C38.85,515.28 58.31,514.55 65.39,513.81 C72.46,513.07 73.05,512.34 76,511.16 C78.95,509.98 81.16,508.5 83.08,506.73 C85,504.96 86.17,503.34 87.5,500.54 C88.83,497.74 90.16,494.35 91.04,489.92 C91.92,485.5 92.22,479.01 92.81,474 C93.4,468.99 93.84,463.98 94.58,459.85 C95.32,455.72 96.35,451.89 97.23,449.23 C98.12,446.58 99,445.55 99.89,443.92 C100.77,442.3 101.86,440.68 102.54,439.5 C103.22,438.32 103.51,436.7 103.96,436.85 C104.4,436.99 104.78,438.32 105.19,440.38 C105.61,442.45 105.99,445.4 106.43,449.23 C106.88,453.06 107.32,458.08 107.85,463.39 C108.38,468.69 109.03,475.18 109.62,481.08 C110.21,486.98 110.8,493.76 111.39,498.77 C111.98,503.78 112.57,508.36 113.16,511.16 C113.75,513.96 114.63,514.84 114.93,515.58" fill="none" stroke="#4a4a4a" stroke-width="0.75" stroke-linejoin="round"/>
<line x1="33.6" y1="432" x2="33.6" y2="515.7" stroke="#444" stroke-width="1" />
<line x1="33.6" y1="515.7" x2="117.5" y2="515.7" stroke="#333" stroke-width="1.1" />
<text transform="translate(30.6 517.3)" font-size="4.0" text-anchor="end" fill="#222" font-weight="bold" >0</text>
<line x1="31.6" y1="515.9" x2="33.6" y2="515.9" stroke="#444" stroke-width="0.7" />
<line x1="32.6" y1="511.89" x2="33.6" y2="511.89" stroke="#555" stroke-width="0.5" />
<line x1="32.6" y1="507.88" x2="33.6" y2="507.88" stroke="#555" stroke-width="0.5" />
<line x1="32.6" y1="503.86" x2="33.6" y2="503.86" stroke="#555" stroke-width="0.5" />
<text transform="translate(30.6 501.25)" font-size="4.0" text-anchor="end" fill="#222" font-weight="bold" >20</text>
<line x1="31.6" y1="499.85" x2="33.6" y2="499.85" stroke="#444" stroke-width="0.7" />
<line x1="32.6" y1="495.84" x2="33.6" y2="495.84" stroke="#555" stroke-width="0.5" />
<line x1="32.6" y1="491.83" x2="33.6" y2="491.83" stroke="#555" stroke-width="0.5" />
<line x1="32.6" y1="487.81" x2="33.6" y2="487.81" stroke="#555" stroke-width="0.5" />
<text transform="translate(30.6 485.2)" font-size="4.0" text-anchor="end" fill="#222" font-weight="bold" >40</text>
<line x1="31.6" y1="483.8" x2="33.6" y2="483.8" stroke="#444" stroke-width="0.7" />
<line x1="32.6" y1="479.79" x2="33.6" y2="479.79" stroke="#555" stroke-width="0.5" />
<line x1="32.6" y1="475.78" x2="33.6" y2="475.78" stroke="#555" stroke-width="0.5" />
<line x1="32.6" y1="471.76" x2="33.6" y2="471.76" stroke="#555" stroke-width="0.5" />
<text transform="translate(30.6 469.15)" font-size="4.0" text-anchor="end" fill="#222" font-weight="bold" >60</text>
<line x1="31.6" y1="467.75" x2="33.6" y2="467.75" stroke="#444" stroke-width="0.7" />
<line x1="32.6" y1="463.74" x2="33.6" y2="463.74" stroke="#555" stroke-width="0.5" />
<line x1="32.6" y1="459.73" x2="33.6" y2="459.73" stroke="#555" stroke-width="0.5" />
<line x1="32.6" y1="455.71" x2="33.6" y2="455.71" stroke="#555" stroke-width="0.5" />
<text transform="translate(30.6 453.1)" font-size="4.0" text-anchor="end" fill="#222" font-weight="bold" >80</text>
<line x1="31.6" y1="451.7" x2="33.6" y2="451.7" stroke="#444" stroke-width="0.7" />
<line x1="32.6" y1="447.69" x2="33.6" y2="447.69" stroke="#555" stroke-width="0.5" />
<line x1="32.6" y1="443.68" x2="33.6" y2="443.68" stroke="#555" stroke-width="0.5" />
<line x1="32.6" y1="439.66" x2="33.6" y2="439.66" stroke="#555" stroke-width="0.5" />
<text transform="translate(30.6 437.05)" font-size="4.0" text-anchor="end" fill="#222" font-weight="bold" >100</text>
<line x1="31.6" y1="435.65" x2="33.6" y2="435.65" stroke="#444" stroke-width="0.7" />
<text transform="translate(42.6 523.3)" font-size="4.0" text-anchor="middle" fill="#222" font-weight="bold" >0</text>
<line x1="42.6" y1="515.7" x2="42.6" y2="517.3" stroke="#666" stroke-width="0.6" />
<text transform="translate(50.1 523.3)" font-size="4.0" text-anchor="middle" fill="#222" font-weight="bold" >10²</text>
<line x1="50.1" y1="515.7" x2="50.1" y2="517.3" stroke="#666" stroke-width="0.6" />
<text transform="translate(71.1 523.3)" font-size="4.0" text-anchor="middle" fill="#222" font-weight="bold" >10³</text>
<line x1="71.1" y1="515.7" x2="71.1" y2="517.3" stroke="#666" stroke-width="0.6" />
<text transform="translate(90.6 523.3)" font-size="4.0" text-anchor="middle" fill="#222" font-weight="bold" >10⁴</text>
<line x1="90.6" y1="515.7" x2="90.6" y2="517.3" stroke="#666" stroke-width="0.6" />
<text transform="translate(110.1 523.3)" font-size="4.0" text-anchor="middle" fill="#222" font-weight="bold" >10⁵</text>
<line x1="110.1" y1="515.7" x2="110.1" y2="517.3" stroke="#666" stroke-width="0.6" />
<text transform="translate(75 534)" font-size="9.3" text-anchor="middle" fill="#111" >CD56</text>
<text transform="translate(18 475.15) rotate(-90)" font-size="8.9" text-anchor="middle" fill="#111" >% Max</text>
<rect x="288.3" y="432" width="84" height="83.7" fill="#fff" stroke="#666" stroke-width="0.9"/>
<path d="M288.54,515.58 C291.19,515.43 300.63,515.43 304.46,514.69 C308.3,513.96 309.62,512.93 311.54,511.16 C313.46,509.39 314.78,507.03 315.96,504.08 C317.14,501.13 317.88,497.3 318.62,493.46 C319.35,489.63 319.74,486.09 320.39,481.08 C321.03,476.07 321.77,469.28 322.51,463.39 C323.25,457.49 324.13,450.12 324.81,445.69 C325.49,441.27 325.99,438.17 326.58,436.85 C327.17,435.52 327.85,436.26 328.35,437.73 C328.85,439.21 329.08,442.01 329.59,445.69 C330.09,449.38 330.77,454.83 331.36,459.85 C331.95,464.86 332.53,470.46 333.12,475.77 C333.71,481.08 334.3,486.98 334.89,491.69 C335.48,496.41 335.98,500.69 336.66,504.08 C337.34,507.47 338.14,510.18 338.96,512.04 C339.79,513.9 340.59,514.64 341.62,515.23 C342.65,515.82 344.57,515.52 345.16,515.58 Z" fill="#a8a8a8" stroke="#444" stroke-width="0.8" stroke-linejoin="round"/>
<path d="M288.54,515.58 C291.19,515.49 300.63,515.64 304.46,515.05 C308.3,514.46 309.62,513.57 311.54,512.04 C313.46,510.51 314.64,508.94 315.96,505.85 C317.29,502.75 318.47,498.18 319.5,493.46 C320.53,488.75 321.27,483.14 322.15,477.54 C323.04,471.94 323.92,465.45 324.81,459.85 C325.69,454.24 326.58,447.76 327.46,443.92 C328.35,440.09 329.23,437.73 330.12,436.85 C331,435.96 332.03,437.14 332.77,438.62 C333.51,440.09 333.89,441.86 334.54,445.69 C335.19,449.53 335.93,455.72 336.66,461.62 C337.4,467.51 338.2,474.89 338.96,481.08 C339.73,487.27 340.53,494.05 341.26,498.77 C342,503.49 342.59,506.64 343.39,509.39 C344.18,512.13 345.6,514.25 346.04,515.23" fill="none" stroke="#333" stroke-width="0.9" stroke-linejoin="round" stroke-dasharray="1.6 1.3"/>
<path d="M288.54,515.58 C292.37,515.37 306.23,515.23 311.54,514.34 C316.85,513.46 317.88,512.28 320.39,510.27 C322.89,508.27 324.81,505.7 326.58,502.31 C328.35,498.92 329.67,494.35 331,489.92 C332.33,485.5 333.51,480.19 334.54,475.77 C335.57,471.35 336.31,467.81 337.19,463.39 C338.08,458.96 339.05,453.21 339.85,449.23 C340.64,445.25 341.38,441.62 341.97,439.5 C342.56,437.38 342.91,436.35 343.39,436.49 C343.86,436.64 344.36,437.97 344.8,440.38 C345.24,442.8 345.63,446.87 346.04,451 C346.45,455.13 346.84,459.85 347.28,465.15 C347.72,470.46 348.16,476.66 348.69,482.85 C349.23,489.04 349.87,497.3 350.46,502.31 C351.05,507.32 351.64,510.71 352.23,512.93 C352.82,515.14 353.71,515.14 354,515.58" fill="none" stroke="#4a4a4a" stroke-width="0.75" stroke-linejoin="round"/>
<line x1="288.3" y1="432" x2="288.3" y2="515.7" stroke="#444" stroke-width="1" />
<line x1="288.3" y1="515.7" x2="372.3" y2="515.7" stroke="#333" stroke-width="1.1" />
<text transform="translate(285.3 517.3)" font-size="4.0" text-anchor="end" fill="#222" font-weight="bold" >0</text>
<line x1="286.3" y1="515.9" x2="288.3" y2="515.9" stroke="#444" stroke-width="0.7" />
<line x1="287.3" y1="511.89" x2="288.3" y2="511.89" stroke="#555" stroke-width="0.5" />
<line x1="287.3" y1="507.88" x2="288.3" y2="507.88" stroke="#555" stroke-width="0.5" />
<line x1="287.3" y1="503.86" x2="288.3" y2="503.86" stroke="#555" stroke-width="0.5" />
<text transform="translate(285.3 501.25)" font-size="4.0" text-anchor="end" fill="#222" font-weight="bold" >20</text>
<line x1="286.3" y1="499.85" x2="288.3" y2="499.85" stroke="#444" stroke-width="0.7" />
<line x1="287.3" y1="495.84" x2="288.3" y2="495.84" stroke="#555" stroke-width="0.5" />
<line x1="287.3" y1="491.83" x2="288.3" y2="491.83" stroke="#555" stroke-width="0.5" />
<line x1="287.3" y1="487.81" x2="288.3" y2="487.81" stroke="#555" stroke-width="0.5" />
<text transform="translate(285.3 485.2)" font-size="4.0" text-anchor="end" fill="#222" font-weight="bold" >40</text>
<line x1="286.3" y1="483.8" x2="288.3" y2="483.8" stroke="#444" stroke-width="0.7" />
<line x1="287.3" y1="479.79" x2="288.3" y2="479.79" stroke="#555" stroke-width="0.5" />
<line x1="287.3" y1="475.78" x2="288.3" y2="475.78" stroke="#555" stroke-width="0.5" />
<line x1="287.3" y1="471.76" x2="288.3" y2="471.76" stroke="#555" stroke-width="0.5" />
<text transform="translate(285.3 469.15)" font-size="4.0" text-anchor="end" fill="#222" font-weight="bold" >60</text>
<line x1="286.3" y1="467.75" x2="288.3" y2="467.75" stroke="#444" stroke-width="0.7" />
<line x1="287.3" y1="463.74" x2="288.3" y2="463.74" stroke="#555" stroke-width="0.5" />
<line x1="287.3" y1="459.73" x2="288.3" y2="459.73" stroke="#555" stroke-width="0.5" />
<line x1="287.3" y1="455.71" x2="288.3" y2="455.71" stroke="#555" stroke-width="0.5" />
<text transform="translate(285.3 453.1)" font-size="4.0" text-anchor="end" fill="#222" font-weight="bold" >80</text>
<line x1="286.3" y1="451.7" x2="288.3" y2="451.7" stroke="#444" stroke-width="0.7" />
<line x1="287.3" y1="447.69" x2="288.3" y2="447.69" stroke="#555" stroke-width="0.5" />
<line x1="287.3" y1="443.68" x2="288.3" y2="443.68" stroke="#555" stroke-width="0.5" />
<line x1="287.3" y1="439.66" x2="288.3" y2="439.66" stroke="#555" stroke-width="0.5" />
<text transform="translate(285.3 437.05)" font-size="4.0" text-anchor="end" fill="#222" font-weight="bold" >100</text>
<line x1="286.3" y1="435.65" x2="288.3" y2="435.65" stroke="#444" stroke-width="0.7" />
<text transform="translate(297.3 523.3)" font-size="4.0" text-anchor="middle" fill="#222" font-weight="bold" >0</text>
<line x1="297.3" y1="515.7" x2="297.3" y2="517.3" stroke="#666" stroke-width="0.6" />
<text transform="translate(304.8 523.3)" font-size="4.0" text-anchor="middle" fill="#222" font-weight="bold" >10²</text>
<line x1="304.8" y1="515.7" x2="304.8" y2="517.3" stroke="#666" stroke-width="0.6" />
<text transform="translate(325.8 523.3)" font-size="4.0" text-anchor="middle" fill="#222" font-weight="bold" >10³</text>
<line x1="325.8" y1="515.7" x2="325.8" y2="517.3" stroke="#666" stroke-width="0.6" />
<text transform="translate(345.3 523.3)" font-size="4.0" text-anchor="middle" fill="#222" font-weight="bold" >10⁴</text>
<line x1="345.3" y1="515.7" x2="345.3" y2="517.3" stroke="#666" stroke-width="0.6" />
<text transform="translate(364.8 523.3)" font-size="4.0" text-anchor="middle" fill="#222" font-weight="bold" >10⁵</text>
<line x1="364.8" y1="515.7" x2="364.8" y2="517.3" stroke="#666" stroke-width="0.6" />
<text transform="translate(329.5 534)" font-size="9.3" text-anchor="middle" fill="#111" >NKp46</text>
<text transform="translate(275.5 475.15) rotate(-90)" font-size="8.9" text-anchor="middle" fill="#111" >% Max</text>
<rect x="33.6" y="552" width="83.9" height="83.7" fill="#fff" stroke="#666" stroke-width="0.9"/>
<path d="M33.54,635.58 C36.49,635.43 46.81,635.28 51.23,634.69 C55.65,634.11 57.72,632.34 60.08,632.04 C62.44,631.75 63.62,632.42 65.39,632.93 C67.15,633.43 68.63,634.81 70.69,635.05 C72.76,635.28 75.85,634.99 77.77,634.34 C79.69,633.69 81.01,633.16 82.19,631.16 C83.37,629.15 84.11,627.32 84.85,622.31 C85.59,617.3 86.03,609.63 86.62,601.08 C87.21,592.53 87.8,578.43 88.39,571 C88.98,563.57 89.62,557.38 90.16,556.49 C90.69,555.61 91.04,558.85 91.57,565.69 C92.1,572.53 92.75,588.1 93.34,597.54 C93.93,606.98 94.52,616.26 95.11,622.31 C95.7,628.36 96.23,631.6 96.88,633.81 C97.53,636.02 98.65,635.28 99,635.58 Z" fill="#a8a8a8" stroke="#444" stroke-width="0.8" stroke-linejoin="round"/>
<path d="M33.54,635.58 C36.49,635.37 46.81,635.02 51.23,634.34 C55.65,633.66 57.72,631.81 60.08,631.51 C62.44,631.22 63.62,632.01 65.39,632.57 C67.15,633.13 68.69,634.64 70.69,634.87 C72.7,635.11 75.65,634.61 77.42,633.99 C79.19,633.37 80.22,633.1 81.31,631.16 C82.4,629.21 83.14,627.91 83.96,622.31 C84.79,616.71 85.59,606.39 86.26,597.54 C86.94,588.69 87.44,576.07 88.03,569.23 C88.62,562.39 89.24,557.08 89.8,556.49 C90.36,555.9 90.83,558.85 91.39,565.69 C91.95,572.53 92.57,588.1 93.16,597.54 C93.75,606.98 94.34,616.26 94.93,622.31 C95.52,628.36 96.02,631.6 96.7,633.81 C97.38,636.02 98.62,635.28 99,635.58" fill="none" stroke="#333" stroke-width="0.9" stroke-linejoin="round" stroke-dasharray="1.6 1.3"/>
<path d="M33.54,635.58 C35.9,635.43 44.15,635.43 47.69,634.69 C51.23,633.96 52.85,632.93 54.77,631.16 C56.69,629.39 57.87,626.73 59.19,624.08 C60.52,621.43 61.7,617.89 62.73,615.23 C63.76,612.58 64.5,609.78 65.39,608.16 C66.27,606.53 67.15,605.21 68.04,605.5 C68.92,605.8 69.81,607.42 70.69,609.92 C71.58,612.43 72.46,617.59 73.35,620.54 C74.23,623.49 74.97,626 76,627.62 C77.03,629.24 78.36,630.27 79.54,630.27 C80.72,630.27 81.75,629.83 83.08,627.62 C84.41,625.41 86.17,620.84 87.5,617 C88.83,613.17 90.01,609.34 91.04,604.62 C92.07,599.9 92.9,594.3 93.69,588.69 C94.49,583.09 95.08,576.31 95.82,571 C96.55,565.69 97.35,558.03 98.12,556.85 C98.88,555.67 99.62,560.38 100.42,563.92 C101.21,567.46 102.1,572.77 102.89,578.08 C103.69,583.39 104.52,589.58 105.19,595.77 C105.87,601.96 106.37,609.63 106.96,615.23 C107.55,620.84 108.14,626.08 108.73,629.39 C109.32,632.69 109.77,634.02 110.5,635.05 C111.24,636.08 112.71,635.49 113.16,635.58" fill="none" stroke="#4a4a4a" stroke-width="0.75" stroke-linejoin="round"/>
<line x1="33.6" y1="552" x2="33.6" y2="635.7" stroke="#444" stroke-width="1" />
<line x1="33.6" y1="635.7" x2="117.5" y2="635.7" stroke="#333" stroke-width="1.1" />
<text transform="translate(30.6 637.3)" font-size="4.0" text-anchor="end" fill="#222" font-weight="bold" >0</text>
<line x1="31.6" y1="635.9" x2="33.6" y2="635.9" stroke="#444" stroke-width="0.7" />
<line x1="32.6" y1="631.89" x2="33.6" y2="631.89" stroke="#555" stroke-width="0.5" />
<line x1="32.6" y1="627.88" x2="33.6" y2="627.88" stroke="#555" stroke-width="0.5" />
<line x1="32.6" y1="623.86" x2="33.6" y2="623.86" stroke="#555" stroke-width="0.5" />
<text transform="translate(30.6 621.25)" font-size="4.0" text-anchor="end" fill="#222" font-weight="bold" >20</text>
<line x1="31.6" y1="619.85" x2="33.6" y2="619.85" stroke="#444" stroke-width="0.7" />
<line x1="32.6" y1="615.84" x2="33.6" y2="615.84" stroke="#555" stroke-width="0.5" />
<line x1="32.6" y1="611.83" x2="33.6" y2="611.83" stroke="#555" stroke-width="0.5" />
<line x1="32.6" y1="607.81" x2="33.6" y2="607.81" stroke="#555" stroke-width="0.5" />
<text transform="translate(30.6 605.2)" font-size="4.0" text-anchor="end" fill="#222" font-weight="bold" >40</text>
<line x1="31.6" y1="603.8" x2="33.6" y2="603.8" stroke="#444" stroke-width="0.7" />
<line x1="32.6" y1="599.79" x2="33.6" y2="599.79" stroke="#555" stroke-width="0.5" />
<line x1="32.6" y1="595.78" x2="33.6" y2="595.78" stroke="#555" stroke-width="0.5" />
<line x1="32.6" y1="591.76" x2="33.6" y2="591.76" stroke="#555" stroke-width="0.5" />
<text transform="translate(30.6 589.15)" font-size="4.0" text-anchor="end" fill="#222" font-weight="bold" >60</text>
<line x1="31.6" y1="587.75" x2="33.6" y2="587.75" stroke="#444" stroke-width="0.7" />
<line x1="32.6" y1="583.74" x2="33.6" y2="583.74" stroke="#555" stroke-width="0.5" />
<line x1="32.6" y1="579.73" x2="33.6" y2="579.73" stroke="#555" stroke-width="0.5" />
<line x1="32.6" y1="575.71" x2="33.6" y2="575.71" stroke="#555" stroke-width="0.5" />
<text transform="translate(30.6 573.1)" font-size="4.0" text-anchor="end" fill="#222" font-weight="bold" >80</text>
<line x1="31.6" y1="571.7" x2="33.6" y2="571.7" stroke="#444" stroke-width="0.7" />
<line x1="32.6" y1="567.69" x2="33.6" y2="567.69" stroke="#555" stroke-width="0.5" />
<line x1="32.6" y1="563.68" x2="33.6" y2="563.68" stroke="#555" stroke-width="0.5" />
<line x1="32.6" y1="559.66" x2="33.6" y2="559.66" stroke="#555" stroke-width="0.5" />
<text transform="translate(30.6 557.05)" font-size="4.0" text-anchor="end" fill="#222" font-weight="bold" >100</text>
<line x1="31.6" y1="555.65" x2="33.6" y2="555.65" stroke="#444" stroke-width="0.7" />
<text transform="translate(42.6 643.3)" font-size="4.0" text-anchor="middle" fill="#222" font-weight="bold" >0</text>
<line x1="42.6" y1="635.7" x2="42.6" y2="637.3" stroke="#666" stroke-width="0.6" />
<text transform="translate(50.1 643.3)" font-size="4.0" text-anchor="middle" fill="#222" font-weight="bold" >10²</text>
<line x1="50.1" y1="635.7" x2="50.1" y2="637.3" stroke="#666" stroke-width="0.6" />
<text transform="translate(71.1 643.3)" font-size="4.0" text-anchor="middle" fill="#222" font-weight="bold" >10³</text>
<line x1="71.1" y1="635.7" x2="71.1" y2="637.3" stroke="#666" stroke-width="0.6" />
<text transform="translate(90.6 643.3)" font-size="4.0" text-anchor="middle" fill="#222" font-weight="bold" >10⁴</text>
<line x1="90.6" y1="635.7" x2="90.6" y2="637.3" stroke="#666" stroke-width="0.6" />
<text transform="translate(110.1 643.3)" font-size="4.0" text-anchor="middle" fill="#222" font-weight="bold" >10⁵</text>
<line x1="110.1" y1="635.7" x2="110.1" y2="637.3" stroke="#666" stroke-width="0.6" />
<text transform="translate(75 653.5)" font-size="9.3" text-anchor="middle" fill="#111" >CD16</text>
<text transform="translate(18 595.15) rotate(-90)" font-size="8.9" text-anchor="middle" fill="#111" >% Max</text>
<rect x="288.3" y="552" width="84" height="83.7" fill="#fff" stroke="#666" stroke-width="0.9"/>
<path d="M288.54,634.69 C289.72,634.4 293.4,634.11 295.62,632.93 C297.83,631.75 300.04,629.98 301.81,627.62 C303.58,625.26 304.9,622.6 306.23,618.77 C307.56,614.94 308.74,609.92 309.77,604.62 C310.8,599.31 311.54,593.12 312.42,586.92 C313.31,580.73 314.25,572.53 315.08,567.46 C315.9,562.39 316.73,557.38 317.38,556.49 C318.03,555.61 318.41,559.15 318.97,562.15 C319.53,565.16 320.06,569.53 320.74,574.54 C321.42,579.55 322.27,586.63 323.04,592.23 C323.81,597.83 324.54,603.14 325.34,608.16 C326.14,613.17 326.93,618.48 327.82,622.31 C328.7,626.14 329.67,629.03 330.65,631.16 C331.62,633.28 332.42,634.31 333.66,635.05 C334.89,635.79 345.6,635.49 338.08,635.58 C330.56,635.67 296.8,635.58 288.54,635.58 Z" fill="#a8a8a8" stroke="#444" stroke-width="0.8" stroke-linejoin="round"/>
<path d="M288.54,635.23 C289.72,635.08 293.4,635.17 295.62,634.34 C297.83,633.52 299.89,632.57 301.81,630.27 C303.72,627.97 305.64,624.23 307.12,620.54 C308.59,616.85 309.62,612.87 310.65,608.16 C311.69,603.44 312.42,597.83 313.31,592.23 C314.19,586.63 315.08,579.55 315.96,574.54 C316.85,569.53 317.73,565.16 318.62,562.15 C319.5,559.15 320.53,556.79 321.27,556.49 C322.01,556.2 322.54,557.97 323.04,560.38 C323.54,562.8 323.84,566.28 324.28,571 C324.72,575.72 325.16,582.5 325.69,588.69 C326.22,594.89 326.87,602.55 327.46,608.16 C328.05,613.76 328.58,618.33 329.23,622.31 C329.88,626.29 330.62,629.89 331.36,632.04 C332.09,634.19 333.27,634.69 333.66,635.23" fill="none" stroke="#333" stroke-width="0.9" stroke-linejoin="round" stroke-dasharray="1.6 1.3"/>
<path d="M288.54,635.05 C290.9,634.84 298.86,634.75 302.69,633.81 C306.53,632.87 309.03,631.6 311.54,629.39 C314.05,627.18 315.96,624.37 317.73,620.54 C319.5,616.71 320.89,611.4 322.15,606.39 C323.42,601.37 324.46,595.77 325.34,590.46 C326.22,585.15 326.67,579.26 327.46,574.54 C328.26,569.82 329.29,565.04 330.12,562.15 C330.94,559.26 331.68,558.14 332.42,557.2 C333.15,556.26 333.89,555.96 334.54,556.49 C335.19,557.02 335.72,557.97 336.31,560.38 C336.9,562.8 337.43,566.28 338.08,571 C338.73,575.72 339.55,582.8 340.2,588.69 C340.85,594.59 341.38,600.78 341.97,606.39 C342.56,611.99 343.15,618.03 343.74,622.31 C344.33,626.59 344.92,629.89 345.51,632.04 C346.1,634.19 346.45,634.64 347.28,635.23 C348.1,635.82 349.93,635.52 350.46,635.58" fill="none" stroke="#4a4a4a" stroke-width="0.75" stroke-linejoin="round"/>
<line x1="288.3" y1="552" x2="288.3" y2="635.7" stroke="#444" stroke-width="1" />
<line x1="288.3" y1="635.7" x2="372.3" y2="635.7" stroke="#333" stroke-width="1.1" />
<text transform="translate(285.3 637.3)" font-size="4.0" text-anchor="end" fill="#222" font-weight="bold" >0</text>
<line x1="286.3" y1="635.9" x2="288.3" y2="635.9" stroke="#444" stroke-width="0.7" />
<line x1="287.3" y1="631.89" x2="288.3" y2="631.89" stroke="#555" stroke-width="0.5" />
<line x1="287.3" y1="627.88" x2="288.3" y2="627.88" stroke="#555" stroke-width="0.5" />
<line x1="287.3" y1="623.86" x2="288.3" y2="623.86" stroke="#555" stroke-width="0.5" />
<text transform="translate(285.3 621.25)" font-size="4.0" text-anchor="end" fill="#222" font-weight="bold" >20</text>
<line x1="286.3" y1="619.85" x2="288.3" y2="619.85" stroke="#444" stroke-width="0.7" />
<line x1="287.3" y1="615.84" x2="288.3" y2="615.84" stroke="#555" stroke-width="0.5" />
<line x1="287.3" y1="611.83" x2="288.3" y2="611.83" stroke="#555" stroke-width="0.5" />
<line x1="287.3" y1="607.81" x2="288.3" y2="607.81" stroke="#555" stroke-width="0.5" />
<text transform="translate(285.3 605.2)" font-size="4.0" text-anchor="end" fill="#222" font-weight="bold" >40</text>
<line x1="286.3" y1="603.8" x2="288.3" y2="603.8" stroke="#444" stroke-width="0.7" />
<line x1="287.3" y1="599.79" x2="288.3" y2="599.79" stroke="#555" stroke-width="0.5" />
<line x1="287.3" y1="595.78" x2="288.3" y2="595.78" stroke="#555" stroke-width="0.5" />
<line x1="287.3" y1="591.76" x2="288.3" y2="591.76" stroke="#555" stroke-width="0.5" />
<text transform="translate(285.3 589.15)" font-size="4.0" text-anchor="end" fill="#222" font-weight="bold" >60</text>
<line x1="286.3" y1="587.75" x2="288.3" y2="587.75" stroke="#444" stroke-width="0.7" />
<line x1="287.3" y1="583.74" x2="288.3" y2="583.74" stroke="#555" stroke-width="0.5" />
<line x1="287.3" y1="579.73" x2="288.3" y2="579.73" stroke="#555" stroke-width="0.5" />
<line x1="287.3" y1="575.71" x2="288.3" y2="575.71" stroke="#555" stroke-width="0.5" />
<text transform="translate(285.3 573.1)" font-size="4.0" text-anchor="end" fill="#222" font-weight="bold" >80</text>
<line x1="286.3" y1="571.7" x2="288.3" y2="571.7" stroke="#444" stroke-width="0.7" />
<line x1="287.3" y1="567.69" x2="288.3" y2="567.69" stroke="#555" stroke-width="0.5" />
<line x1="287.3" y1="563.68" x2="288.3" y2="563.68" stroke="#555" stroke-width="0.5" />
<line x1="287.3" y1="559.66" x2="288.3" y2="559.66" stroke="#555" stroke-width="0.5" />
<text transform="translate(285.3 557.05)" font-size="4.0" text-anchor="end" fill="#222" font-weight="bold" >100</text>
<line x1="286.3" y1="555.65" x2="288.3" y2="555.65" stroke="#444" stroke-width="0.7" />
<text transform="translate(297.3 643.3)" font-size="4.0" text-anchor="middle" fill="#222" font-weight="bold" >0</text>
<line x1="297.3" y1="635.7" x2="297.3" y2="637.3" stroke="#666" stroke-width="0.6" />
<text transform="translate(304.8 643.3)" font-size="4.0" text-anchor="middle" fill="#222" font-weight="bold" >10²</text>
<line x1="304.8" y1="635.7" x2="304.8" y2="637.3" stroke="#666" stroke-width="0.6" />
<text transform="translate(325.8 643.3)" font-size="4.0" text-anchor="middle" fill="#222" font-weight="bold" >10³</text>
<line x1="325.8" y1="635.7" x2="325.8" y2="637.3" stroke="#666" stroke-width="0.6" />
<text transform="translate(345.3 643.3)" font-size="4.0" text-anchor="middle" fill="#222" font-weight="bold" >10⁴</text>
<line x1="345.3" y1="635.7" x2="345.3" y2="637.3" stroke="#666" stroke-width="0.6" />
<text transform="translate(364.8 643.3)" font-size="4.0" text-anchor="middle" fill="#222" font-weight="bold" >10⁵</text>
<line x1="364.8" y1="635.7" x2="364.8" y2="637.3" stroke="#666" stroke-width="0.6" />
<text transform="translate(330 653.5)" font-size="9.3" text-anchor="middle" fill="#111" >NKG2D</text>
<text transform="translate(275.5 595.15) rotate(-90)" font-size="8.9" text-anchor="middle" fill="#111" >% Max</text>
<rect x="33.6" y="672.5" width="83.9" height="83.7" fill="#fff" stroke="#666" stroke-width="0.9"/>
<path d="M83.08,755.93 C83.52,755.43 85,754.9 85.73,752.93 C86.47,750.95 87,748.5 87.5,744.08 C88,739.66 88.36,733.17 88.74,726.39 C89.12,719.6 89.48,710.17 89.8,703.39 C90.13,696.6 90.39,690.06 90.69,685.69 C90.98,681.33 91.25,677.2 91.57,677.2 C91.9,677.2 92.28,680.44 92.63,685.69 C92.99,690.94 93.31,700.44 93.69,708.69 C94.08,716.95 94.49,728.45 94.93,735.23 C95.38,742.02 95.82,746.14 96.35,749.39 C96.88,752.63 97.53,753.6 98.12,754.69 C98.71,755.79 99.59,755.73 99.89,755.93 Z" fill="#a8a8a8" stroke="#444" stroke-width="0.8" stroke-linejoin="round"/>
<path d="M76.36,755.93 C76.59,755.87 77.09,756.38 77.77,755.58 C78.45,754.78 79.69,753.96 80.42,751.16 C81.16,748.36 81.66,743.78 82.19,738.77 C82.72,733.76 83.17,727.57 83.61,721.08 C84.05,714.59 84.41,706.04 84.85,699.85 C85.29,693.65 85.82,687.7 86.26,683.92 C86.71,680.15 87.09,678.23 87.5,677.2 C87.91,676.17 88.3,677.2 88.74,677.73 C89.18,678.26 89.68,677.58 90.16,680.38 C90.63,683.19 91.13,688.35 91.57,694.54 C92.01,700.73 92.31,710.17 92.81,717.54 C93.31,724.91 93.99,733.46 94.58,738.77 C95.17,744.08 95.76,746.53 96.35,749.39 C96.94,752.25 97.82,754.84 98.12,755.93" fill="none" stroke="#333" stroke-width="0.9" stroke-linejoin="round" stroke-dasharray="1.6 1.3"/>
<path d="M33.54,755.93 C43.27,755.93 81.6,756.43 91.92,755.93 C102.25,755.43 94.58,755.2 95.46,752.93 C96.35,750.66 96.7,746.73 97.23,742.31 C97.76,737.89 98.21,731.99 98.65,726.39 C99.09,720.78 99.44,714.59 99.89,708.69 C100.33,702.8 100.8,695.87 101.3,691 C101.8,686.14 102.39,681.8 102.89,679.5 C103.4,677.2 103.84,676.76 104.31,677.2 C104.78,677.64 105.28,679.26 105.73,682.15 C106.17,685.04 106.52,689.53 106.96,694.54 C107.41,699.55 107.88,706.04 108.38,712.23 C108.88,718.42 109.41,726.09 109.97,731.69 C110.53,737.3 111.15,742.31 111.74,745.85 C112.33,749.39 112.83,751.24 113.51,752.93 C114.19,754.61 115.43,755.43 115.81,755.93" fill="none" stroke="#4a4a4a" stroke-width="0.75" stroke-linejoin="round"/>
<line x1="33.6" y1="672.5" x2="33.6" y2="756.2" stroke="#444" stroke-width="1" />
<line x1="33.6" y1="756.2" x2="117.5" y2="756.2" stroke="#333" stroke-width="1.1" />
<text transform="translate(30.6 757.8)" font-size="4.0" text-anchor="end" fill="#222" font-weight="bold" >0</text>
<line x1="31.6" y1="756.4" x2="33.6" y2="756.4" stroke="#444" stroke-width="0.7" />
<line x1="32.6" y1="752.39" x2="33.6" y2="752.39" stroke="#555" stroke-width="0.5" />
<line x1="32.6" y1="748.38" x2="33.6" y2="748.38" stroke="#555" stroke-width="0.5" />
<line x1="32.6" y1="744.36" x2="33.6" y2="744.36" stroke="#555" stroke-width="0.5" />
<text transform="translate(30.6 741.75)" font-size="4.0" text-anchor="end" fill="#222" font-weight="bold" >20</text>
<line x1="31.6" y1="740.35" x2="33.6" y2="740.35" stroke="#444" stroke-width="0.7" />
<line x1="32.6" y1="736.34" x2="33.6" y2="736.34" stroke="#555" stroke-width="0.5" />
<line x1="32.6" y1="732.33" x2="33.6" y2="732.33" stroke="#555" stroke-width="0.5" />
<line x1="32.6" y1="728.31" x2="33.6" y2="728.31" stroke="#555" stroke-width="0.5" />
<text transform="translate(30.6 725.7)" font-size="4.0" text-anchor="end" fill="#222" font-weight="bold" >40</text>
<line x1="31.6" y1="724.3" x2="33.6" y2="724.3" stroke="#444" stroke-width="0.7" />
<line x1="32.6" y1="720.29" x2="33.6" y2="720.29" stroke="#555" stroke-width="0.5" />
<line x1="32.6" y1="716.28" x2="33.6" y2="716.28" stroke="#555" stroke-width="0.5" />
<line x1="32.6" y1="712.26" x2="33.6" y2="712.26" stroke="#555" stroke-width="0.5" />
<text transform="translate(30.6 709.65)" font-size="4.0" text-anchor="end" fill="#222" font-weight="bold" >60</text>
<line x1="31.6" y1="708.25" x2="33.6" y2="708.25" stroke="#444" stroke-width="0.7" />
<line x1="32.6" y1="704.24" x2="33.6" y2="704.24" stroke="#555" stroke-width="0.5" />
<line x1="32.6" y1="700.23" x2="33.6" y2="700.23" stroke="#555" stroke-width="0.5" />
<line x1="32.6" y1="696.21" x2="33.6" y2="696.21" stroke="#555" stroke-width="0.5" />
<text transform="translate(30.6 693.6)" font-size="4.0" text-anchor="end" fill="#222" font-weight="bold" >80</text>
<line x1="31.6" y1="692.2" x2="33.6" y2="692.2" stroke="#444" stroke-width="0.7" />
<line x1="32.6" y1="688.19" x2="33.6" y2="688.19" stroke="#555" stroke-width="0.5" />
<line x1="32.6" y1="684.18" x2="33.6" y2="684.18" stroke="#555" stroke-width="0.5" />
<line x1="32.6" y1="680.16" x2="33.6" y2="680.16" stroke="#555" stroke-width="0.5" />
<text transform="translate(30.6 677.55)" font-size="4.0" text-anchor="end" fill="#222" font-weight="bold" >100</text>
<line x1="31.6" y1="676.15" x2="33.6" y2="676.15" stroke="#444" stroke-width="0.7" />
<text transform="translate(42.6 763.8)" font-size="4.0" text-anchor="middle" fill="#222" font-weight="bold" >0</text>
<line x1="42.6" y1="756.2" x2="42.6" y2="757.8" stroke="#666" stroke-width="0.6" />
<text transform="translate(50.1 763.8)" font-size="4.0" text-anchor="middle" fill="#222" font-weight="bold" >10²</text>
<line x1="50.1" y1="756.2" x2="50.1" y2="757.8" stroke="#666" stroke-width="0.6" />
<text transform="translate(71.1 763.8)" font-size="4.0" text-anchor="middle" fill="#222" font-weight="bold" >10³</text>
<line x1="71.1" y1="756.2" x2="71.1" y2="757.8" stroke="#666" stroke-width="0.6" />
<text transform="translate(90.6 763.8)" font-size="4.0" text-anchor="middle" fill="#222" font-weight="bold" >10⁴</text>
<line x1="90.6" y1="756.2" x2="90.6" y2="757.8" stroke="#666" stroke-width="0.6" />
<text transform="translate(110.1 763.8)" font-size="4.0" text-anchor="middle" fill="#222" font-weight="bold" >10⁵</text>
<line x1="110.1" y1="756.2" x2="110.1" y2="757.8" stroke="#666" stroke-width="0.6" />
<text transform="translate(78 774)" font-size="8.9" text-anchor="middle" fill="#111" >Granzyme B</text>
<text transform="translate(18 715.65) rotate(-90)" font-size="8.9" text-anchor="middle" fill="#111" >% Max</text>
<rect x="288.3" y="672.5" width="84" height="83.7" fill="#fff" stroke="#666" stroke-width="0.9"/>
<path d="M288.54,750.27 C289.42,749.83 292.08,748.8 293.85,747.62 C295.62,746.44 297.53,744.96 299.15,743.19 C300.78,741.43 302.25,739.51 303.58,737 C304.9,734.5 306.08,731.4 307.12,728.16 C308.15,724.91 308.89,721.67 309.77,717.54 C310.65,713.41 311.6,708.1 312.42,703.39 C313.25,698.67 314.05,693.06 314.72,689.23 C315.4,685.4 315.99,682.39 316.49,680.38 C316.99,678.38 317.32,676.91 317.73,677.2 C318.14,677.5 318.53,679.26 318.97,682.15 C319.41,685.04 319.85,689.53 320.39,694.54 C320.92,699.55 321.51,706.33 322.15,712.23 C322.8,718.13 323.54,724.91 324.28,729.92 C325.02,734.94 325.75,739.07 326.58,742.31 C327.4,745.55 328.2,747.62 329.23,749.39 C330.26,751.16 331.3,751.98 332.77,752.93 C334.25,753.87 336.31,754.55 338.08,755.05 C339.85,755.55 351.64,755.79 343.39,755.93 C335.13,756.08 297.68,755.93 288.54,755.93 Z" fill="#a8a8a8" stroke="#444" stroke-width="0.8" stroke-linejoin="round"/>
<path d="M288.54,754.69 C290.31,754.4 296.21,753.81 299.15,752.93 C302.1,752.04 304.17,751.16 306.23,749.39 C308.3,747.62 309.92,745.26 311.54,742.31 C313.16,739.36 314.64,735.82 315.96,731.69 C317.29,727.57 318.47,722.55 319.5,717.54 C320.53,712.53 321.36,706.63 322.15,701.62 C322.95,696.6 323.63,691.15 324.28,687.46 C324.93,683.78 325.52,681.21 326.05,679.5 C326.58,677.79 326.99,677.05 327.46,677.2 C327.93,677.35 328.44,678.08 328.88,680.38 C329.32,682.69 329.7,686.58 330.12,691 C330.53,695.42 330.91,701.32 331.36,706.92 C331.8,712.53 332.24,719.31 332.77,724.62 C333.3,729.92 333.8,735.38 334.54,738.77 C335.28,742.16 336.16,743.64 337.19,744.96 C338.23,746.29 339.55,745.85 340.73,746.73 C341.91,747.62 343.09,749.09 344.27,750.27 C345.45,751.45 346.63,752.87 347.81,753.81 C348.99,754.75 350.76,755.58 351.35,755.93" fill="none" stroke="#333" stroke-width="0.9" stroke-linejoin="round" stroke-dasharray="1.6 1.3"/>
<path d="M288.54,755.93 C294.73,755.79 318.62,755.55 325.69,755.05 C332.77,754.55 329.53,754.46 331,752.93 C332.48,751.39 333.66,748.8 334.54,745.85 C335.42,742.9 335.78,739.66 336.31,735.23 C336.84,730.81 337.28,724.91 337.72,719.31 C338.17,713.71 338.52,706.92 338.96,701.62 C339.41,696.31 339.88,691.15 340.38,687.46 C340.88,683.78 341.47,681.21 341.97,679.5 C342.47,677.79 342.86,676.76 343.39,677.2 C343.92,677.64 344.57,680.44 345.16,682.15 C345.75,683.86 346.34,684.81 346.92,687.46 C347.51,690.12 347.96,694.54 348.69,698.08 C349.43,701.62 350.61,704.86 351.35,708.69 C352.09,712.53 352.53,716.66 353.12,721.08 C353.71,725.5 354.3,731.1 354.89,735.23 C355.48,739.36 355.98,742.9 356.66,745.85 C357.33,748.8 358.07,751.24 358.96,752.93 C359.84,754.61 361.46,755.43 361.96,755.93" fill="none" stroke="#4a4a4a" stroke-width="0.75" stroke-linejoin="round"/>
<line x1="288.3" y1="672.5" x2="288.3" y2="756.2" stroke="#444" stroke-width="1" />
<line x1="288.3" y1="756.2" x2="372.3" y2="756.2" stroke="#333" stroke-width="1.1" />
<text transform="translate(285.3 757.8)" font-size="4.0" text-anchor="end" fill="#222" font-weight="bold" >0</text>
<line x1="286.3" y1="756.4" x2="288.3" y2="756.4" stroke="#444" stroke-width="0.7" />
<line x1="287.3" y1="752.39" x2="288.3" y2="752.39" stroke="#555" stroke-width="0.5" />
<line x1="287.3" y1="748.38" x2="288.3" y2="748.38" stroke="#555" stroke-width="0.5" />
<line x1="287.3" y1="744.36" x2="288.3" y2="744.36" stroke="#555" stroke-width="0.5" />
<text transform="translate(285.3 741.75)" font-size="4.0" text-anchor="end" fill="#222" font-weight="bold" >20</text>
<line x1="286.3" y1="740.35" x2="288.3" y2="740.35" stroke="#444" stroke-width="0.7" />
<line x1="287.3" y1="736.34" x2="288.3" y2="736.34" stroke="#555" stroke-width="0.5" />
<line x1="287.3" y1="732.33" x2="288.3" y2="732.33" stroke="#555" stroke-width="0.5" />
<line x1="287.3" y1="728.31" x2="288.3" y2="728.31" stroke="#555" stroke-width="0.5" />
<text transform="translate(285.3 725.7)" font-size="4.0" text-anchor="end" fill="#222" font-weight="bold" >40</text>
<line x1="286.3" y1="724.3" x2="288.3" y2="724.3" stroke="#444" stroke-width="0.7" />
<line x1="287.3" y1="720.29" x2="288.3" y2="720.29" stroke="#555" stroke-width="0.5" />
<line x1="287.3" y1="716.28" x2="288.3" y2="716.28" stroke="#555" stroke-width="0.5" />
<line x1="287.3" y1="712.26" x2="288.3" y2="712.26" stroke="#555" stroke-width="0.5" />
<text transform="translate(285.3 709.65)" font-size="4.0" text-anchor="end" fill="#222" font-weight="bold" >60</text>
<line x1="286.3" y1="708.25" x2="288.3" y2="708.25" stroke="#444" stroke-width="0.7" />
<line x1="287.3" y1="704.24" x2="288.3" y2="704.24" stroke="#555" stroke-width="0.5" />
<line x1="287.3" y1="700.23" x2="288.3" y2="700.23" stroke="#555" stroke-width="0.5" />
<line x1="287.3" y1="696.21" x2="288.3" y2="696.21" stroke="#555" stroke-width="0.5" />
<text transform="translate(285.3 693.6)" font-size="4.0" text-anchor="end" fill="#222" font-weight="bold" >80</text>
<line x1="286.3" y1="692.2" x2="288.3" y2="692.2" stroke="#444" stroke-width="0.7" />
<line x1="287.3" y1="688.19" x2="288.3" y2="688.19" stroke="#555" stroke-width="0.5" />
<line x1="287.3" y1="684.18" x2="288.3" y2="684.18" stroke="#555" stroke-width="0.5" />
<line x1="287.3" y1="680.16" x2="288.3" y2="680.16" stroke="#555" stroke-width="0.5" />
<text transform="translate(285.3 677.55)" font-size="4.0" text-anchor="end" fill="#222" font-weight="bold" >100</text>
<line x1="286.3" y1="676.15" x2="288.3" y2="676.15" stroke="#444" stroke-width="0.7" />
<text transform="translate(297.3 763.8)" font-size="4.0" text-anchor="middle" fill="#222" font-weight="bold" >0</text>
<line x1="297.3" y1="756.2" x2="297.3" y2="757.8" stroke="#666" stroke-width="0.6" />
<text transform="translate(304.8 763.8)" font-size="4.0" text-anchor="middle" fill="#222" font-weight="bold" >10²</text>
<line x1="304.8" y1="756.2" x2="304.8" y2="757.8" stroke="#666" stroke-width="0.6" />
<text transform="translate(325.8 763.8)" font-size="4.0" text-anchor="middle" fill="#222" font-weight="bold" >10³</text>
<line x1="325.8" y1="756.2" x2="325.8" y2="757.8" stroke="#666" stroke-width="0.6" />
<text transform="translate(345.3 763.8)" font-size="4.0" text-anchor="middle" fill="#222" font-weight="bold" >10⁴</text>
<line x1="345.3" y1="756.2" x2="345.3" y2="757.8" stroke="#666" stroke-width="0.6" />
<text transform="translate(364.8 763.8)" font-size="4.0" text-anchor="middle" fill="#222" font-weight="bold" >10⁵</text>
<line x1="364.8" y1="756.2" x2="364.8" y2="757.8" stroke="#666" stroke-width="0.6" />
<text transform="translate(329.5 774)" font-size="9.3" text-anchor="middle" fill="#111" >CD69</text>
<text transform="translate(275.5 715.65) rotate(-90)" font-size="8.9" text-anchor="middle" fill="#111" >% Max</text>
<line x1="182.3" y1="508.52" x2="182.3" y2="507.43" stroke="#222" stroke-width="1" />
<line x1="179.8" y1="507.43" x2="184.8" y2="507.43" stroke="#222" stroke-width="1" />
<rect x="177.3" y="509.02" width="10" height="6.98" fill="#000000" stroke="#000" stroke-width="1"/>
<line x1="197.95" y1="453.44" x2="197.95" y2="441.2" stroke="#444" stroke-width="1" />
<line x1="195.45" y1="441.2" x2="200.45" y2="441.2" stroke="#444" stroke-width="1" />
<rect x="192.9" y="453.94" width="10.1" height="62.06" fill="#a6a6a6" stroke="#3a3a3a" stroke-width="1"/>
<line x1="223.45" y1="508.52" x2="223.45" y2="507.43" stroke="#222" stroke-width="1" />
<line x1="220.95" y1="507.43" x2="225.95" y2="507.43" stroke="#222" stroke-width="1" />
<rect x="218.4" y="509.02" width="10.1" height="6.98" fill="#000000" stroke="#000" stroke-width="1"/>
<line x1="238.65" y1="505.12" x2="238.65" y2="504.3" stroke="#444" stroke-width="1" />
<line x1="236.15" y1="504.3" x2="241.15" y2="504.3" stroke="#444" stroke-width="1" />
<rect x="233.6" y="505.62" width="10.1" height="10.38" fill="#a6a6a6" stroke="#3a3a3a" stroke-width="1"/>
<line x1="169.8" y1="433.9" x2="169.8" y2="516.5" stroke="#3a3a3a" stroke-width="1" />
<line x1="167.8" y1="434.4" x2="169.8" y2="434.4" stroke="#3a3a3a" stroke-width="1" />
<text transform="translate(166.6 437.6)" font-size="8.9" text-anchor="end" fill="#111" >60,000</text>
<line x1="167.8" y1="461.6" x2="169.8" y2="461.6" stroke="#3a3a3a" stroke-width="1" />
<text transform="translate(166.6 464.8)" font-size="8.9" text-anchor="end" fill="#111" >40,000</text>
<line x1="167.8" y1="488.8" x2="169.8" y2="488.8" stroke="#3a3a3a" stroke-width="1" />
<text transform="translate(166.6 492)" font-size="8.9" text-anchor="end" fill="#111" >20,000</text>
<line x1="167.8" y1="516" x2="169.8" y2="516" stroke="#3a3a3a" stroke-width="1" />
<text transform="translate(166.6 519.2)" font-size="8.9" text-anchor="end" fill="#111" >0</text>
<line x1="169.3" y1="516" x2="252" y2="516" stroke="#3a3a3a" stroke-width="1" />
<line x1="190.1" y1="516" x2="190.1" y2="518.5" stroke="#3a3a3a" stroke-width="1" />
<line x1="231.05" y1="516" x2="231.05" y2="518.5" stroke="#3a3a3a" stroke-width="1" />
<text transform="translate(196.5 522.4) rotate(-42) scale(0.98 1)" font-size="8.9" text-anchor="end" fill="#111" >Vehicle</text>
<text transform="translate(238.65 522.4) rotate(-42) scale(0.94 1)" font-size="8.9" text-anchor="end" fill="#111" >Ruxolitinib</text>
<text transform="translate(136.2 471.2) rotate(-90)" font-size="8.9" text-anchor="middle" fill="#111" >CD56 MFI</text>
<line x1="181.4" y1="437.3" x2="198" y2="437.3" stroke="#5c5c5c" stroke-width="1.15" />
<text transform="translate(189.7 438.8)" font-size="9.4" text-anchor="middle" fill="#111" font-weight="bold" >***</text>
<line x1="223.7" y1="497" x2="239.8" y2="497" stroke="#5c5c5c" stroke-width="1.15" />
<text transform="translate(231.75 495.2)" font-size="9.6" text-anchor="middle" fill="#111" >ns</text>
<line x1="432.95" y1="502.54" x2="432.95" y2="501.72" stroke="#222" stroke-width="1" />
<line x1="430.45" y1="501.72" x2="435.45" y2="501.72" stroke="#222" stroke-width="1" />
<rect x="427.8" y="503.04" width="10.3" height="12.96" fill="#000000" stroke="#000" stroke-width="1"/>
<line x1="448.5" y1="454.8" x2="448.5" y2="449.7" stroke="#444" stroke-width="1" />
<line x1="446" y1="449.7" x2="451" y2="449.7" stroke="#444" stroke-width="1" />
<rect x="443.3" y="455.3" width="10.4" height="60.7" fill="#a6a6a6" stroke="#3a3a3a" stroke-width="1"/>
<line x1="473.5" y1="502.54" x2="473.5" y2="501.72" stroke="#222" stroke-width="1" />
<line x1="471" y1="501.72" x2="476" y2="501.72" stroke="#222" stroke-width="1" />
<rect x="468.3" y="503.04" width="10.4" height="12.96" fill="#000000" stroke="#000" stroke-width="1"/>
<line x1="489.15" y1="488.26" x2="489.15" y2="482.34" stroke="#444" stroke-width="1" />
<line x1="486.65" y1="482.34" x2="491.65" y2="482.34" stroke="#444" stroke-width="1" />
<rect x="483.9" y="488.76" width="10.5" height="27.24" fill="#a6a6a6" stroke="#3a3a3a" stroke-width="1"/>
<line x1="419.8" y1="433.9" x2="419.8" y2="516.5" stroke="#3a3a3a" stroke-width="1" />
<line x1="417.8" y1="434.4" x2="419.8" y2="434.4" stroke="#3a3a3a" stroke-width="1" />
<text transform="translate(416.6 437.6) scale(0.96 1)" font-size="8.9" text-anchor="end" fill="#111" >8,000</text>
<line x1="417.8" y1="454.8" x2="419.8" y2="454.8" stroke="#3a3a3a" stroke-width="1" />
<text transform="translate(416.6 458) scale(0.96 1)" font-size="8.9" text-anchor="end" fill="#111" >6,000</text>
<line x1="417.8" y1="475.2" x2="419.8" y2="475.2" stroke="#3a3a3a" stroke-width="1" />
<text transform="translate(416.6 478.4) scale(0.96 1)" font-size="8.9" text-anchor="end" fill="#111" >4,000</text>
<line x1="417.8" y1="495.6" x2="419.8" y2="495.6" stroke="#3a3a3a" stroke-width="1" />
<text transform="translate(416.6 498.8) scale(0.96 1)" font-size="8.9" text-anchor="end" fill="#111" >2,000</text>
<line x1="417.8" y1="516" x2="419.8" y2="516" stroke="#3a3a3a" stroke-width="1" />
<text transform="translate(416.6 519.2) scale(0.96 1)" font-size="8.9" text-anchor="end" fill="#111" >0</text>
<line x1="419.3" y1="516" x2="502.5" y2="516" stroke="#3a3a3a" stroke-width="1" />
<line x1="440.7" y1="516" x2="440.7" y2="518.5" stroke="#3a3a3a" stroke-width="1" />
<line x1="481.3" y1="516" x2="481.3" y2="518.5" stroke="#3a3a3a" stroke-width="1" />
<text transform="translate(447.1 522.4) rotate(-42) scale(0.98 1)" font-size="8.9" text-anchor="end" fill="#111" >Vehicle</text>
<text transform="translate(488.9 522.4) rotate(-42) scale(0.94 1)" font-size="8.9" text-anchor="end" fill="#111" >Ruxolitinib</text>
<text transform="translate(391.8 473) rotate(-90)" font-size="8.9" text-anchor="middle" fill="#111" >NKp46 MFI</text>
<line x1="433.3" y1="444.1" x2="449.5" y2="444.1" stroke="#5c5c5c" stroke-width="1.15" />
<text transform="translate(441.4 444.6)" font-size="9.4" text-anchor="middle" fill="#111" font-weight="bold" >***</text>
<line x1="473.4" y1="477" x2="490" y2="477" stroke="#5c5c5c" stroke-width="1.15" />
<text transform="translate(481.7 475.2)" font-size="9.6" text-anchor="middle" fill="#111" >ns</text>
<line x1="182.3" y1="607.23" x2="182.3" y2="602.3" stroke="#222" stroke-width="1" />
<line x1="179.8" y1="602.3" x2="184.8" y2="602.3" stroke="#222" stroke-width="1" />
<rect x="177.3" y="607.73" width="10" height="28.27" fill="#000000" stroke="#000" stroke-width="1"/>
<line x1="197.95" y1="574.35" x2="197.95" y2="568.18" stroke="#444" stroke-width="1" />
<line x1="195.45" y1="568.18" x2="200.45" y2="568.18" stroke="#444" stroke-width="1" />
<rect x="192.9" y="574.85" width="10.1" height="61.15" fill="#a6a6a6" stroke="#3a3a3a" stroke-width="1"/>
<line x1="223.45" y1="607.23" x2="223.45" y2="602.3" stroke="#222" stroke-width="1" />
<line x1="220.95" y1="602.3" x2="225.95" y2="602.3" stroke="#222" stroke-width="1" />
<rect x="218.4" y="607.73" width="10.1" height="28.27" fill="#000000" stroke="#000" stroke-width="1"/>
<line x1="238.65" y1="606.61" x2="238.65" y2="602.3" stroke="#444" stroke-width="1" />
<line x1="236.15" y1="602.3" x2="241.15" y2="602.3" stroke="#444" stroke-width="1" />
<rect x="233.6" y="607.11" width="10.1" height="28.89" fill="#a6a6a6" stroke="#3a3a3a" stroke-width="1"/>
<line x1="169.8" y1="553.3" x2="169.8" y2="636.5" stroke="#3a3a3a" stroke-width="1" />
<line x1="167.8" y1="553.8" x2="169.8" y2="553.8" stroke="#3a3a3a" stroke-width="1" />
<text transform="translate(166.6 557)" font-size="8.9" text-anchor="end" fill="#111" >40,000</text>
<line x1="167.8" y1="574.35" x2="169.8" y2="574.35" stroke="#3a3a3a" stroke-width="1" />
<text transform="translate(166.6 577.55)" font-size="8.9" text-anchor="end" fill="#111" >30,000</text>
<line x1="167.8" y1="594.9" x2="169.8" y2="594.9" stroke="#3a3a3a" stroke-width="1" />
<text transform="translate(166.6 598.1)" font-size="8.9" text-anchor="end" fill="#111" >20,000</text>
<line x1="167.8" y1="615.45" x2="169.8" y2="615.45" stroke="#3a3a3a" stroke-width="1" />
<text transform="translate(166.6 618.65)" font-size="8.9" text-anchor="end" fill="#111" >10,000</text>
<line x1="167.8" y1="636" x2="169.8" y2="636" stroke="#3a3a3a" stroke-width="1" />
<text transform="translate(166.6 639.2)" font-size="8.9" text-anchor="end" fill="#111" >0</text>
<line x1="169.3" y1="636" x2="252" y2="636" stroke="#3a3a3a" stroke-width="1" />
<line x1="190.1" y1="636" x2="190.1" y2="638.5" stroke="#3a3a3a" stroke-width="1" />
<line x1="231.05" y1="636" x2="231.05" y2="638.5" stroke="#3a3a3a" stroke-width="1" />
<text transform="translate(196.5 642.4) rotate(-42) scale(0.98 1)" font-size="8.9" text-anchor="end" fill="#111" >Vehicle</text>
<text transform="translate(238.65 642.4) rotate(-42) scale(0.94 1)" font-size="8.9" text-anchor="end" fill="#111" >Ruxolitinib</text>
<text transform="translate(136.2 590.8) rotate(-90)" font-size="8.9" text-anchor="middle" fill="#111" >CD16 MFI</text>
<line x1="183" y1="564.2" x2="199.4" y2="564.2" stroke="#5c5c5c" stroke-width="1.15" />
<text transform="translate(191.2 564)" font-size="9.4" text-anchor="middle" fill="#111" font-weight="bold" >*</text>
<line x1="223.7" y1="597.8" x2="239.8" y2="597.8" stroke="#5c5c5c" stroke-width="1.15" />
<text transform="translate(231.75 596)" font-size="9.6" text-anchor="middle" fill="#111" >ns</text>
<line x1="432.95" y1="617.62" x2="432.95" y2="615.15" stroke="#222" stroke-width="1" />
<line x1="430.45" y1="615.15" x2="435.45" y2="615.15" stroke="#222" stroke-width="1" />
<rect x="427.8" y="618.12" width="10.3" height="18.38" fill="#000000" stroke="#000" stroke-width="1"/>
<line x1="448.5" y1="568.63" x2="448.5" y2="565.89" stroke="#444" stroke-width="1" />
<line x1="446" y1="565.89" x2="451" y2="565.89" stroke="#444" stroke-width="1" />
<rect x="443.3" y="569.13" width="10.4" height="67.37" fill="#a6a6a6" stroke="#3a3a3a" stroke-width="1"/>
<line x1="473.5" y1="617.62" x2="473.5" y2="615.15" stroke="#222" stroke-width="1" />
<line x1="471" y1="615.15" x2="476" y2="615.15" stroke="#222" stroke-width="1" />
<rect x="468.3" y="618.12" width="10.4" height="18.38" fill="#000000" stroke="#000" stroke-width="1"/>
<line x1="489.15" y1="613.51" x2="489.15" y2="611.19" stroke="#444" stroke-width="1" />
<line x1="486.65" y1="611.19" x2="491.65" y2="611.19" stroke="#444" stroke-width="1" />
<rect x="483.9" y="614.01" width="10.5" height="22.49" fill="#a6a6a6" stroke="#3a3a3a" stroke-width="1"/>
<line x1="419.8" y1="553.9" x2="419.8" y2="637" stroke="#3a3a3a" stroke-width="1" />
<line x1="417.8" y1="554.4" x2="419.8" y2="554.4" stroke="#3a3a3a" stroke-width="1" />
<text transform="translate(416.6 557.6) scale(0.96 1)" font-size="8.9" text-anchor="end" fill="#111" >3,000</text>
<line x1="417.8" y1="581.77" x2="419.8" y2="581.77" stroke="#3a3a3a" stroke-width="1" />
<text transform="translate(416.6 584.97) scale(0.96 1)" font-size="8.9" text-anchor="end" fill="#111" >2,000</text>
<line x1="417.8" y1="609.13" x2="419.8" y2="609.13" stroke="#3a3a3a" stroke-width="1" />
<text transform="translate(416.6 612.34) scale(0.96 1)" font-size="8.9" text-anchor="end" fill="#111" >1,000</text>
<line x1="417.8" y1="636.5" x2="419.8" y2="636.5" stroke="#3a3a3a" stroke-width="1" />
<text transform="translate(416.6 639.7) scale(0.96 1)" font-size="8.9" text-anchor="end" fill="#111" >0</text>
<line x1="419.3" y1="636.5" x2="502.5" y2="636.5" stroke="#3a3a3a" stroke-width="1" />
<line x1="440.7" y1="636.5" x2="440.7" y2="639" stroke="#3a3a3a" stroke-width="1" />
<line x1="481.3" y1="636.5" x2="481.3" y2="639" stroke="#3a3a3a" stroke-width="1" />
<text transform="translate(447.1 642.9) rotate(-42) scale(0.98 1)" font-size="8.9" text-anchor="end" fill="#111" >Vehicle</text>
<text transform="translate(488.9 642.9) rotate(-42) scale(0.94 1)" font-size="8.9" text-anchor="end" fill="#111" >Ruxolitinib</text>
<text transform="translate(392.5 593) rotate(-90)" font-size="8.9" text-anchor="middle" fill="#111" >NKG2D MFI</text>
<line x1="430.6" y1="559.2" x2="446.8" y2="559.2" stroke="#5c5c5c" stroke-width="1.15" />
<text transform="translate(438.7 559.7)" font-size="9.4" text-anchor="middle" fill="#111" font-weight="bold" >***</text>
<line x1="473.4" y1="605" x2="489" y2="605" stroke="#5c5c5c" stroke-width="1.15" />
<text transform="translate(481.2 603.2)" font-size="9.6" text-anchor="middle" fill="#111" >ns</text>
<line x1="182.3" y1="741.62" x2="182.3" y2="738.44" stroke="#222" stroke-width="1" />
<line x1="179.8" y1="738.44" x2="184.8" y2="738.44" stroke="#222" stroke-width="1" />
<rect x="177.3" y="742.12" width="10" height="14.38" fill="#000000" stroke="#000" stroke-width="1"/>
<line x1="197.95" y1="691.85" x2="197.95" y2="691.54" stroke="#444" stroke-width="1" />
<line x1="195.45" y1="691.54" x2="200.45" y2="691.54" stroke="#444" stroke-width="1" />
<rect x="192.9" y="692.35" width="10.1" height="64.15" fill="#a6a6a6" stroke="#3a3a3a" stroke-width="1"/>
<line x1="223.45" y1="741.62" x2="223.45" y2="738.44" stroke="#222" stroke-width="1" />
<line x1="220.95" y1="738.44" x2="225.95" y2="738.44" stroke="#222" stroke-width="1" />
<rect x="218.4" y="742.12" width="10.1" height="14.38" fill="#000000" stroke="#000" stroke-width="1"/>
<line x1="238.65" y1="744.7" x2="238.65" y2="741.72" stroke="#444" stroke-width="1" />
<line x1="236.15" y1="741.72" x2="241.15" y2="741.72" stroke="#444" stroke-width="1" />
<rect x="233.6" y="745.2" width="10.1" height="11.3" fill="#a6a6a6" stroke="#3a3a3a" stroke-width="1"/>
<line x1="169.8" y1="673.9" x2="169.8" y2="757" stroke="#3a3a3a" stroke-width="1" />
<line x1="167.8" y1="674.4" x2="169.8" y2="674.4" stroke="#3a3a3a" stroke-width="1" />
<text transform="translate(166.6 677.6)" font-size="8.9" text-anchor="end" fill="#111" >80,000</text>
<line x1="167.8" y1="694.92" x2="169.8" y2="694.92" stroke="#3a3a3a" stroke-width="1" />
<text transform="translate(166.6 698.13)" font-size="8.9" text-anchor="end" fill="#111" >60,000</text>
<line x1="167.8" y1="715.45" x2="169.8" y2="715.45" stroke="#3a3a3a" stroke-width="1" />
<text transform="translate(166.6 718.65)" font-size="8.9" text-anchor="end" fill="#111" >40,000</text>
<line x1="167.8" y1="735.98" x2="169.8" y2="735.98" stroke="#3a3a3a" stroke-width="1" />
<text transform="translate(166.6 739.18)" font-size="8.9" text-anchor="end" fill="#111" >20,000</text>
<line x1="167.8" y1="756.5" x2="169.8" y2="756.5" stroke="#3a3a3a" stroke-width="1" />
<text transform="translate(166.6 759.7)" font-size="8.9" text-anchor="end" fill="#111" >0</text>
<line x1="169.3" y1="756.5" x2="252" y2="756.5" stroke="#3a3a3a" stroke-width="1" />
<line x1="190.1" y1="756.5" x2="190.1" y2="759" stroke="#3a3a3a" stroke-width="1" />
<line x1="231.05" y1="756.5" x2="231.05" y2="759" stroke="#3a3a3a" stroke-width="1" />
<text transform="translate(196.5 762.9) rotate(-42) scale(0.98 1)" font-size="8.9" text-anchor="end" fill="#111" >Vehicle</text>
<text transform="translate(238.65 762.9) rotate(-42) scale(0.94 1)" font-size="8.9" text-anchor="end" fill="#111" >Ruxolitinib</text>
<text transform="translate(134.3 706) rotate(-90)" font-size="8.9" text-anchor="middle" fill="#111" >Granzyme B MFI</text>
<line x1="181.4" y1="685.3" x2="198" y2="685.3" stroke="#5c5c5c" stroke-width="1.15" />
<text transform="translate(189.7 684.7)" font-size="9.4" text-anchor="middle" fill="#111" font-weight="bold" >***</text>
<line x1="223.7" y1="732.5" x2="239.8" y2="732.5" stroke="#5c5c5c" stroke-width="1.15" />
<text transform="translate(231.75 730.7)" font-size="9.6" text-anchor="middle" fill="#111" >ns</text>
<line x1="432.95" y1="748.7" x2="432.95" y2="748.29" stroke="#222" stroke-width="1" />
<line x1="430.45" y1="748.29" x2="435.45" y2="748.29" stroke="#222" stroke-width="1" />
<rect x="427.8" y="749.2" width="10.3" height="7.3" fill="#000000" stroke="#000" stroke-width="1"/>
<line x1="448.5" y1="703.13" x2="448.5" y2="698.62" stroke="#444" stroke-width="1" />
<line x1="446" y1="698.62" x2="451" y2="698.62" stroke="#444" stroke-width="1" />
<rect x="443.3" y="703.63" width="10.4" height="52.87" fill="#a6a6a6" stroke="#3a3a3a" stroke-width="1"/>
<line x1="473.5" y1="748.7" x2="473.5" y2="748.29" stroke="#222" stroke-width="1" />
<line x1="471" y1="748.29" x2="476" y2="748.29" stroke="#222" stroke-width="1" />
<rect x="468.3" y="749.2" width="10.4" height="7.3" fill="#000000" stroke="#000" stroke-width="1"/>
<line x1="489.15" y1="747.47" x2="489.15" y2="746.44" stroke="#444" stroke-width="1" />
<line x1="486.65" y1="746.44" x2="491.65" y2="746.44" stroke="#444" stroke-width="1" />
<rect x="483.9" y="747.97" width="10.5" height="8.53" fill="#a6a6a6" stroke="#3a3a3a" stroke-width="1"/>
<line x1="419.8" y1="673.9" x2="419.8" y2="757" stroke="#3a3a3a" stroke-width="1" />
<line x1="417.8" y1="674.4" x2="419.8" y2="674.4" stroke="#3a3a3a" stroke-width="1" />
<text transform="translate(416.6 677.6) scale(0.96 1)" font-size="8.9" text-anchor="end" fill="#111" >20,000</text>
<line x1="417.8" y1="694.92" x2="419.8" y2="694.92" stroke="#3a3a3a" stroke-width="1" />
<text transform="translate(416.6 698.13) scale(0.96 1)" font-size="8.9" text-anchor="end" fill="#111" >15,000</text>
<line x1="417.8" y1="715.45" x2="419.8" y2="715.45" stroke="#3a3a3a" stroke-width="1" />
<text transform="translate(416.6 718.65) scale(0.96 1)" font-size="8.9" text-anchor="end" fill="#111" >10,000</text>
<line x1="417.8" y1="735.98" x2="419.8" y2="735.98" stroke="#3a3a3a" stroke-width="1" />
<text transform="translate(416.6 739.18) scale(0.96 1)" font-size="8.9" text-anchor="end" fill="#111" >5,000</text>
<line x1="417.8" y1="756.5" x2="419.8" y2="756.5" stroke="#3a3a3a" stroke-width="1" />
<text transform="translate(416.6 759.7) scale(0.96 1)" font-size="8.9" text-anchor="end" fill="#111" >0</text>
<line x1="419.3" y1="756.5" x2="502.5" y2="756.5" stroke="#3a3a3a" stroke-width="1" />
<line x1="440.7" y1="756.5" x2="440.7" y2="759" stroke="#3a3a3a" stroke-width="1" />
<line x1="481.3" y1="756.5" x2="481.3" y2="759" stroke="#3a3a3a" stroke-width="1" />
<text transform="translate(447.1 762.9) rotate(-42) scale(0.98 1)" font-size="8.9" text-anchor="end" fill="#111" >Vehicle</text>
<text transform="translate(488.9 762.9) rotate(-42) scale(0.94 1)" font-size="8.9" text-anchor="end" fill="#111" >Ruxolitinib</text>
<text transform="translate(386 713) rotate(-90)" font-size="8.9" text-anchor="middle" fill="#111" >CD69 MFI</text>
<line x1="431" y1="694" x2="447.3" y2="694" stroke="#5c5c5c" stroke-width="1.15" />
<text transform="translate(439.15 694.3)" font-size="9.4" text-anchor="middle" fill="#111" font-weight="bold" >***</text>
<line x1="473" y1="738.5" x2="489" y2="738.5" stroke="#5c5c5c" stroke-width="1.15" />
<text transform="translate(481 736.7)" font-size="9.6" text-anchor="middle" fill="#111" >ns</text>
<rect x="65" y="842.27" width="13.3" height="49.03" fill="#000000" stroke="#000" stroke-width="1"/>
<line x1="92.55" y1="864.55" x2="92.55" y2="859.6" stroke="#444" stroke-width="1" />
<line x1="87.55" y1="859.6" x2="97.55" y2="859.6" stroke="#444" stroke-width="1" />
<rect x="86" y="865.05" width="13.1" height="26.25" fill="#a6a6a6" stroke="#3a3a3a" stroke-width="1"/>
<line x1="127.6" y1="838.3" x2="127.6" y2="835.33" stroke="#222" stroke-width="1" />
<line x1="122.6" y1="835.33" x2="132.6" y2="835.33" stroke="#222" stroke-width="1" />
<rect x="121.1" y="838.8" width="13" height="52.5" fill="#000000" stroke="#000" stroke-width="1"/>
<line x1="148.45" y1="847.22" x2="148.45" y2="841.77" stroke="#444" stroke-width="1" />
<line x1="143.45" y1="841.77" x2="153.45" y2="841.77" stroke="#444" stroke-width="1" />
<rect x="141.7" y="847.72" width="13.5" height="43.58" fill="#a6a6a6" stroke="#3a3a3a" stroke-width="1"/>
<line x1="54.5" y1="816.5" x2="54.5" y2="891.8" stroke="#3a3a3a" stroke-width="1" />
<line x1="52.5" y1="817" x2="54.5" y2="817" stroke="#3a3a3a" stroke-width="1" />
<text transform="translate(51.3 820.2) scale(0.89 1)" font-size="8.9" text-anchor="end" fill="#111" >150</text>
<line x1="52.5" y1="841.77" x2="54.5" y2="841.77" stroke="#3a3a3a" stroke-width="1" />
<text transform="translate(51.3 844.97) scale(0.89 1)" font-size="8.9" text-anchor="end" fill="#111" >100</text>
<line x1="52.5" y1="866.53" x2="54.5" y2="866.53" stroke="#3a3a3a" stroke-width="1" />
<text transform="translate(51.3 869.74) scale(0.89 1)" font-size="8.9" text-anchor="end" fill="#111" >50</text>
<line x1="52.5" y1="891.3" x2="54.5" y2="891.3" stroke="#3a3a3a" stroke-width="1" />
<text transform="translate(51.3 894.5) scale(0.89 1)" font-size="8.9" text-anchor="end" fill="#111" >0</text>
<line x1="54" y1="891.3" x2="166.3" y2="891.3" stroke="#3a3a3a" stroke-width="1" />
<line x1="82.15" y1="891.3" x2="82.15" y2="893.8" stroke="#3a3a3a" stroke-width="1" />
<line x1="137.9" y1="891.3" x2="137.9" y2="893.8" stroke="#3a3a3a" stroke-width="1" />
<text transform="translate(93.65 897.1) rotate(-42) scale(0.94 1)" font-size="8.9" text-anchor="end" fill="#111" >Ruxolitinib</text>
<text transform="translate(144.4 897.1) rotate(-42) scale(0.94 1)" font-size="8.9" text-anchor="end" fill="#111" >Ruxolitinib</text>
<text transform="translate(160.6 897.1) rotate(-42) scale(0.97 1)" font-size="8.9" text-anchor="end" fill="#111" >after washout</text>
<text transform="translate(0 0) rotate(-90)" font-size="8.9" text-anchor="middle" fill="#111" ></text>
<line x1="72.4" y1="834.8" x2="95.3" y2="834.8" stroke="#5c5c5c" stroke-width="1.15" />
<text transform="translate(83.85 833.4)" font-size="9.4" text-anchor="middle" fill="#111" font-weight="bold" >***</text>
<line x1="126.2" y1="826.3" x2="149.5" y2="826.3" stroke="#5c5c5c" stroke-width="1.15" />
<text transform="translate(137.85 824.5)" font-size="9.6" text-anchor="middle" fill="#111" >ns</text>
<text transform="translate(23.9 854.15) rotate(-90) scale(0.955 1)" font-size="8.9" text-anchor="middle" fill="#111" >Relative CD107</text>
<text transform="translate(35.8 854.15) rotate(-90) scale(0.955 1)" font-size="8.9" text-anchor="middle" fill="#111" >expression (% ± SEM)</text>
<text transform="translate(102 805.5)" font-size="8.9" text-anchor="middle" fill="#111" >Degranulation</text>
<rect x="231.7" y="842.27" width="13.3" height="49.03" fill="#000000" stroke="#000" stroke-width="1"/>
<line x1="259.15" y1="868.51" x2="259.15" y2="862.08" stroke="#444" stroke-width="1" />
<line x1="254.15" y1="862.08" x2="264.15" y2="862.08" stroke="#444" stroke-width="1" />
<rect x="252.5" y="869.01" width="13.3" height="22.29" fill="#a6a6a6" stroke="#3a3a3a" stroke-width="1"/>
<line x1="294.15" y1="835.82" x2="294.15" y2="827.9" stroke="#222" stroke-width="1" />
<line x1="289.15" y1="827.9" x2="299.15" y2="827.9" stroke="#222" stroke-width="1" />
<rect x="287.5" y="836.32" width="13.3" height="54.98" fill="#000000" stroke="#000" stroke-width="1"/>
<line x1="315" y1="832.36" x2="315" y2="829.88" stroke="#444" stroke-width="1" />
<line x1="310" y1="829.88" x2="320" y2="829.88" stroke="#444" stroke-width="1" />
<rect x="308.5" y="832.86" width="13" height="58.44" fill="#a6a6a6" stroke="#3a3a3a" stroke-width="1"/>
<line x1="220.5" y1="816.5" x2="220.5" y2="891.8" stroke="#3a3a3a" stroke-width="1" />
<line x1="218.5" y1="817" x2="220.5" y2="817" stroke="#3a3a3a" stroke-width="1" />
<text transform="translate(217.3 820.2) scale(0.89 1)" font-size="8.9" text-anchor="end" fill="#111" >150</text>
<line x1="218.5" y1="841.77" x2="220.5" y2="841.77" stroke="#3a3a3a" stroke-width="1" />
<text transform="translate(217.3 844.97) scale(0.89 1)" font-size="8.9" text-anchor="end" fill="#111" >100</text>
<line x1="218.5" y1="866.53" x2="220.5" y2="866.53" stroke="#3a3a3a" stroke-width="1" />
<text transform="translate(217.3 869.74) scale(0.89 1)" font-size="8.9" text-anchor="end" fill="#111" >50</text>
<line x1="218.5" y1="891.3" x2="220.5" y2="891.3" stroke="#3a3a3a" stroke-width="1" />
<text transform="translate(217.3 894.5) scale(0.89 1)" font-size="8.9" text-anchor="end" fill="#111" >0</text>
<line x1="220" y1="891.3" x2="332.5" y2="891.3" stroke="#3a3a3a" stroke-width="1" />
<line x1="248.75" y1="891.3" x2="248.75" y2="893.8" stroke="#3a3a3a" stroke-width="1" />
<line x1="304.65" y1="891.3" x2="304.65" y2="893.8" stroke="#3a3a3a" stroke-width="1" />
<text transform="translate(260.25 897.1) rotate(-42) scale(0.94 1)" font-size="8.9" text-anchor="end" fill="#111" >Ruxolitinib</text>
<text transform="translate(311.15 897.1) rotate(-42) scale(0.94 1)" font-size="8.9" text-anchor="end" fill="#111" >Ruxolitinib</text>
<text transform="translate(327.35 897.1) rotate(-42) scale(0.97 1)" font-size="8.9" text-anchor="end" fill="#111" >after washout</text>
<text transform="translate(0 0) rotate(-90)" font-size="8.9" text-anchor="middle" fill="#111" ></text>
<line x1="237.5" y1="835" x2="260.5" y2="835" stroke="#5c5c5c" stroke-width="1.15" />
<text transform="translate(249 833.6)" font-size="9.4" text-anchor="middle" fill="#111" font-weight="bold" >***</text>
<line x1="293.2" y1="821.3" x2="316.2" y2="821.3" stroke="#5c5c5c" stroke-width="1.15" />
<text transform="translate(304.7 819.5)" font-size="9.6" text-anchor="middle" fill="#111" >ns</text>
<text transform="translate(187.7 848.95) rotate(-90) scale(0.976 1)" font-size="8.9" text-anchor="middle" fill="#111" >Relative killing</text>
<text transform="translate(198.5 848.25) rotate(-90) scale(0.97 1)" font-size="8.9" text-anchor="middle" fill="#111" >(% ± SEM)</text>
<text transform="translate(265.5 805.5)" font-size="8.9" text-anchor="middle" fill="#111" >Killing</text>
<rect x="346.3" y="819.5" width="8.7" height="4.3" fill="#000"/>
<rect x="346.8" y="831.2" width="7.7" height="3.8" fill="#a6a6a6" stroke="#3a3a3a" stroke-width="1"/>
<text transform="translate(359.5 824.3)" font-size="8.9" text-anchor="start" fill="#111" >Vehicle</text>
<text transform="translate(359.5 836)" font-size="8.9" text-anchor="start" fill="#111" >1 µmol/L</text>
</svg>
</body>
</html>
